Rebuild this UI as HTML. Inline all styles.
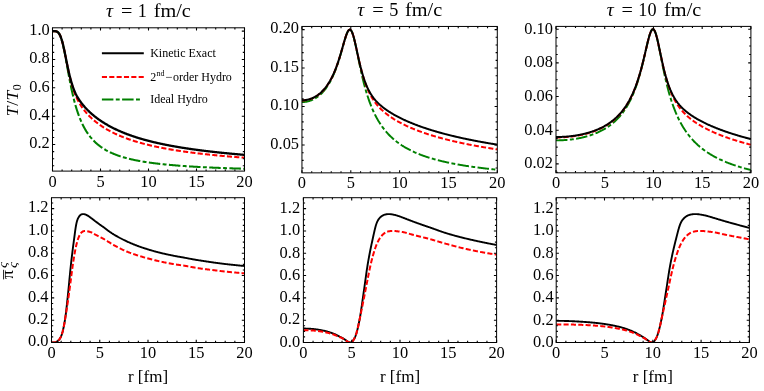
<!DOCTYPE html>
<html><head><meta charset="utf-8"><title>Gubser flow comparison</title>
<style>
html,body{margin:0;padding:0;background:#fff;}
body{width:764px;height:391px;overflow:hidden;font-family:"Liberation Serif",serif;}
svg{display:block;will-change:transform;}
svg text{font-family:"Liberation Serif",serif;fill:#000;}
</style></head><body>
<svg width="764" height="391" viewBox="0 0 764 391">
<rect width="764" height="391" fill="#fff"/>
<clipPath id="c0"><rect x="52.5" y="27.8" width="192" height="143.3"/></clipPath>
<g clip-path="url(#c0)" fill="none" stroke-linejoin="round">
<path d="M52.50 31.10 L52.98 31.10 L53.46 31.10 L53.94 31.11 L54.42 31.12 L54.90 31.15 L55.38 31.20 L55.86 31.28 L56.34 31.40 L56.82 31.58 L57.30 31.83 L57.78 32.17 L58.26 32.60 L58.74 33.15 L59.22 33.83 L59.70 34.65 L60.18 35.63 L60.66 36.78 L61.14 38.10 L61.62 39.60 L62.10 41.26 L62.58 43.10 L63.06 45.10 L63.54 47.25 L64.02 49.53 L64.50 51.92 L64.98 54.41 L65.46 56.98 L65.94 59.60 L66.42 62.26 L66.90 64.94 L67.38 67.61 L67.86 70.28 L68.34 72.92 L68.82 75.52 L69.30 78.08 L69.78 80.59 L70.26 83.03 L70.74 85.41 L71.22 87.73 L71.70 89.97 L72.18 92.15 L72.66 94.26 L73.14 96.29 L73.62 98.26 L74.10 100.16 L74.58 101.99 L75.06 103.75 L75.54 105.46 L76.02 107.10 L76.50 108.68 L76.98 110.21 L77.46 111.68 L77.94 113.09 L78.42 114.46 L78.90 115.78 L79.38 117.05 L79.86 118.28 L80.34 119.46 L80.82 120.60 L81.30 121.71 L81.78 122.77 L82.26 123.80 L82.74 124.80 L83.22 125.76 L83.70 126.69 L84.18 127.59 L84.66 128.46 L85.14 129.30 L85.62 130.12 L86.10 130.91 L86.58 131.68 L87.06 132.42 L87.54 133.14 L88.02 133.84 L88.50 134.52 L88.98 135.18 L89.46 135.82 L89.94 136.44 L90.42 137.05 L90.90 137.63 L91.38 138.20 L91.86 138.76 L92.34 139.30 L92.82 139.82 L93.30 140.34 L93.78 140.83 L94.26 141.32 L94.74 141.79 L95.22 142.25 L95.70 142.70 L96.18 143.14 L96.66 143.56 L97.14 143.98 L97.62 144.39 L98.10 144.78 L98.58 145.17 L99.06 145.55 L99.54 145.92 L100.02 146.28 L100.50 146.63 L100.98 146.97 L101.46 147.31 L101.94 147.64 L102.42 147.96 L102.90 148.27 L103.38 148.58 L103.86 148.88 L104.34 149.18 L104.82 149.47 L105.30 149.75 L105.78 150.02 L106.26 150.30 L106.74 150.56 L107.22 150.82 L107.70 151.08 L108.18 151.33 L108.66 151.57 L109.14 151.81 L109.62 152.04 L110.10 152.28 L110.58 152.50 L111.06 152.72 L111.54 152.94 L112.02 153.16 L112.50 153.37 L112.98 153.57 L113.46 153.77 L113.94 153.97 L114.42 154.17 L114.90 154.36 L115.38 154.55 L115.86 154.73 L116.34 154.91 L116.82 155.09 L117.30 155.27 L117.78 155.44 L118.26 155.61 L118.74 155.77 L119.22 155.94 L119.70 156.10 L120.18 156.26 L120.66 156.41 L121.14 156.57 L121.62 156.72 L122.10 156.87 L122.58 157.01 L123.06 157.16 L123.54 157.30 L124.02 157.44 L124.50 157.57 L124.98 157.71 L125.46 157.84 L125.94 157.97 L126.42 158.10 L126.90 158.23 L127.38 158.35 L127.86 158.48 L128.34 158.60 L128.82 158.72 L129.30 158.84 L129.78 158.95 L130.26 159.07 L130.74 159.18 L131.22 159.29 L131.70 159.40 L132.18 159.51 L132.66 159.62 L133.14 159.72 L133.62 159.83 L134.10 159.93 L134.58 160.03 L135.06 160.13 L135.54 160.23 L136.02 160.32 L136.50 160.42 L136.98 160.51 L137.46 160.61 L137.94 160.70 L138.42 160.79 L138.90 160.88 L139.38 160.97 L139.86 161.05 L140.34 161.14 L140.82 161.23 L141.30 161.31 L141.78 161.39 L142.26 161.47 L142.74 161.56 L143.22 161.64 L143.70 161.71 L144.18 161.79 L144.66 161.87 L145.14 161.95 L145.62 162.02 L146.10 162.09 L146.58 162.17 L147.06 162.24 L147.54 162.31 L148.02 162.38 L148.50 162.45 L148.98 162.52 L149.46 162.59 L149.94 162.66 L150.42 162.73 L150.90 162.79 L151.38 162.86 L151.86 162.92 L152.34 162.99 L152.82 163.05 L153.30 163.11 L153.78 163.17 L154.26 163.23 L154.74 163.29 L155.22 163.35 L155.70 163.41 L156.18 163.47 L156.66 163.53 L157.14 163.59 L157.62 163.64 L158.10 163.70 L158.58 163.76 L159.06 163.81 L159.54 163.86 L160.02 163.92 L160.50 163.97 L160.98 164.02 L161.46 164.08 L161.94 164.13 L162.42 164.18 L162.90 164.23 L163.38 164.28 L163.86 164.33 L164.34 164.38 L164.82 164.43 L165.30 164.47 L165.78 164.52 L166.26 164.57 L166.74 164.62 L167.22 164.66 L167.70 164.71 L168.18 164.75 L168.66 164.80 L169.14 164.84 L169.62 164.89 L170.10 164.93 L170.58 164.97 L171.06 165.02 L171.54 165.06 L172.02 165.10 L172.50 165.14 L172.98 165.18 L173.46 165.22 L173.94 165.26 L174.42 165.30 L174.90 165.34 L175.38 165.38 L175.86 165.42 L176.34 165.46 L176.82 165.50 L177.30 165.54 L177.78 165.57 L178.26 165.61 L178.74 165.65 L179.22 165.68 L179.70 165.72 L180.18 165.76 L180.66 165.79 L181.14 165.83 L181.62 165.86 L182.10 165.90 L182.58 165.93 L183.06 165.97 L183.54 166.00 L184.02 166.03 L184.50 166.07 L184.98 166.10 L185.46 166.13 L185.94 166.17 L186.42 166.20 L186.90 166.23 L187.38 166.26 L187.86 166.29 L188.34 166.32 L188.82 166.35 L189.30 166.38 L189.78 166.42 L190.26 166.45 L190.74 166.48 L191.22 166.50 L191.70 166.53 L192.18 166.56 L192.66 166.59 L193.14 166.62 L193.62 166.65 L194.10 166.68 L194.58 166.71 L195.06 166.73 L195.54 166.76 L196.02 166.79 L196.50 166.82 L196.98 166.84 L197.46 166.87 L197.94 166.90 L198.42 166.92 L198.90 166.95 L199.38 166.97 L199.86 167.00 L200.34 167.03 L200.82 167.05 L201.30 167.08 L201.78 167.10 L202.26 167.13 L202.74 167.15 L203.22 167.17 L203.70 167.20 L204.18 167.22 L204.66 167.25 L205.14 167.27 L205.62 167.29 L206.10 167.32 L206.58 167.34 L207.06 167.36 L207.54 167.39 L208.02 167.41 L208.50 167.43 L208.98 167.45 L209.46 167.48 L209.94 167.50 L210.42 167.52 L210.90 167.54 L211.38 167.56 L211.86 167.58 L212.34 167.61 L212.82 167.63 L213.30 167.65 L213.78 167.67 L214.26 167.69 L214.74 167.71 L215.22 167.73 L215.70 167.75 L216.18 167.77 L216.66 167.79 L217.14 167.81 L217.62 167.83 L218.10 167.85 L218.58 167.87 L219.06 167.89 L219.54 167.91 L220.02 167.93 L220.50 167.95 L220.98 167.96 L221.46 167.98 L221.94 168.00 L222.42 168.02 L222.90 168.04 L223.38 168.06 L223.86 168.07 L224.34 168.09 L224.82 168.11 L225.30 168.13 L225.78 168.15 L226.26 168.16 L226.74 168.18 L227.22 168.20 L227.70 168.22 L228.18 168.23 L228.66 168.25 L229.14 168.27 L229.62 168.28 L230.10 168.30 L230.58 168.32 L231.06 168.33 L231.54 168.35 L232.02 168.37 L232.50 168.38 L232.98 168.40 L233.46 168.41 L233.94 168.43 L234.42 168.44 L234.90 168.46 L235.38 168.48 L235.86 168.49 L236.34 168.51 L236.82 168.52 L237.30 168.54 L237.78 168.55 L238.26 168.57 L238.74 168.58 L239.22 168.60 L239.70 168.61 L240.18 168.63 L240.66 168.64 L241.14 168.66 L241.62 168.67 L242.10 168.68 L242.58 168.70 L243.06 168.71 L243.54 168.73 L244.02 168.74 L244.50 168.75" stroke="#008000" stroke-width="2.05" stroke-dasharray="11.5 2.4 3.9 2.4"/>
<path d="M52.50 31.10 L52.98 31.10 L53.46 31.10 L53.94 31.11 L54.42 31.12 L54.90 31.15 L55.38 31.20 L55.86 31.28 L56.34 31.40 L56.82 31.58 L57.30 31.83 L57.78 32.16 L58.26 32.60 L58.74 33.14 L59.22 33.82 L59.70 34.63 L60.18 35.60 L60.66 36.73 L61.14 38.03 L61.62 39.49 L62.10 41.12 L62.58 42.90 L63.06 44.83 L63.54 46.89 L64.02 49.06 L64.50 51.31 L64.98 53.64 L65.46 56.00 L65.94 58.40 L66.42 60.80 L66.90 63.18 L67.38 65.54 L67.86 67.86 L68.34 70.12 L68.82 72.33 L69.30 74.47 L69.78 76.54 L70.26 78.53 L70.74 80.44 L71.22 82.27 L71.70 84.01 L72.18 85.68 L72.66 87.27 L73.14 88.78 L73.62 90.21 L74.10 91.58 L74.58 92.88 L75.06 94.12 L75.54 95.30 L76.02 96.43 L76.50 97.51 L76.98 98.54 L77.46 99.53 L77.94 100.47 L78.42 101.38 L78.90 102.26 L79.38 103.10 L79.86 103.91 L80.34 104.70 L80.82 105.46 L81.30 106.19 L81.78 106.91 L82.26 107.60 L82.74 108.27 L83.22 108.93 L83.70 109.57 L84.18 110.19 L84.66 110.80 L85.14 111.39 L85.62 111.97 L86.10 112.54 L86.58 113.09 L87.06 113.63 L87.54 114.16 L88.02 114.68 L88.50 115.19 L88.98 115.69 L89.46 116.18 L89.94 116.66 L90.42 117.13 L90.90 117.59 L91.38 118.05 L91.86 118.49 L92.34 118.93 L92.82 119.36 L93.30 119.78 L93.78 120.20 L94.26 120.61 L94.74 121.01 L95.22 121.40 L95.70 121.79 L96.18 122.18 L96.66 122.56 L97.14 122.93 L97.62 123.29 L98.10 123.65 L98.58 124.01 L99.06 124.36 L99.54 124.70 L100.02 125.04 L100.50 125.37 L100.98 125.70 L101.46 126.03 L101.94 126.35 L102.42 126.66 L102.90 126.97 L103.38 127.28 L103.86 127.58 L104.34 127.88 L104.82 128.18 L105.30 128.47 L105.78 128.75 L106.26 129.04 L106.74 129.32 L107.22 129.59 L107.70 129.86 L108.18 130.13 L108.66 130.40 L109.14 130.66 L109.62 130.92 L110.10 131.18 L110.58 131.43 L111.06 131.68 L111.54 131.93 L112.02 132.17 L112.50 132.42 L112.98 132.65 L113.46 132.89 L113.94 133.12 L114.42 133.35 L114.90 133.58 L115.38 133.81 L115.86 134.03 L116.34 134.25 L116.82 134.47 L117.30 134.69 L117.78 134.90 L118.26 135.11 L118.74 135.32 L119.22 135.53 L119.70 135.73 L120.18 135.94 L120.66 136.14 L121.14 136.34 L121.62 136.53 L122.10 136.73 L122.58 136.92 L123.06 137.11 L123.54 137.30 L124.02 137.48 L124.50 137.67 L124.98 137.85 L125.46 138.03 L125.94 138.21 L126.42 138.39 L126.90 138.56 L127.38 138.74 L127.86 138.91 L128.34 139.08 L128.82 139.25 L129.30 139.41 L129.78 139.58 L130.26 139.74 L130.74 139.90 L131.22 140.06 L131.70 140.22 L132.18 140.38 L132.66 140.54 L133.14 140.69 L133.62 140.84 L134.10 141.00 L134.58 141.15 L135.06 141.30 L135.54 141.44 L136.02 141.59 L136.50 141.73 L136.98 141.88 L137.46 142.02 L137.94 142.16 L138.42 142.30 L138.90 142.44 L139.38 142.57 L139.86 142.71 L140.34 142.85 L140.82 142.98 L141.30 143.11 L141.78 143.24 L142.26 143.37 L142.74 143.50 L143.22 143.63 L143.70 143.76 L144.18 143.88 L144.66 144.01 L145.14 144.13 L145.62 144.25 L146.10 144.37 L146.58 144.49 L147.06 144.61 L147.54 144.73 L148.02 144.85 L148.50 144.97 L148.98 145.08 L149.46 145.20 L149.94 145.31 L150.42 145.42 L150.90 145.53 L151.38 145.65 L151.86 145.76 L152.34 145.86 L152.82 145.97 L153.30 146.08 L153.78 146.19 L154.26 146.29 L154.74 146.40 L155.22 146.50 L155.70 146.61 L156.18 146.71 L156.66 146.81 L157.14 146.91 L157.62 147.01 L158.10 147.11 L158.58 147.21 L159.06 147.31 L159.54 147.40 L160.02 147.50 L160.50 147.60 L160.98 147.69 L161.46 147.79 L161.94 147.88 L162.42 147.97 L162.90 148.06 L163.38 148.16 L163.86 148.25 L164.34 148.34 L164.82 148.43 L165.30 148.52 L165.78 148.60 L166.26 148.69 L166.74 148.78 L167.22 148.87 L167.70 148.95 L168.18 149.04 L168.66 149.12 L169.14 149.21 L169.62 149.29 L170.10 149.37 L170.58 149.45 L171.06 149.54 L171.54 149.62 L172.02 149.70 L172.50 149.78 L172.98 149.86 L173.46 149.94 L173.94 150.02 L174.42 150.09 L174.90 150.17 L175.38 150.25 L175.86 150.32 L176.34 150.40 L176.82 150.48 L177.30 150.55 L177.78 150.62 L178.26 150.70 L178.74 150.77 L179.22 150.84 L179.70 150.92 L180.18 150.99 L180.66 151.06 L181.14 151.13 L181.62 151.20 L182.10 151.27 L182.58 151.34 L183.06 151.41 L183.54 151.48 L184.02 151.55 L184.50 151.62 L184.98 151.68 L185.46 151.75 L185.94 151.82 L186.42 151.88 L186.90 151.95 L187.38 152.01 L187.86 152.08 L188.34 152.14 L188.82 152.21 L189.30 152.27 L189.78 152.34 L190.26 152.40 L190.74 152.46 L191.22 152.52 L191.70 152.59 L192.18 152.65 L192.66 152.71 L193.14 152.77 L193.62 152.83 L194.10 152.89 L194.58 152.95 L195.06 153.01 L195.54 153.07 L196.02 153.13 L196.50 153.19 L196.98 153.24 L197.46 153.30 L197.94 153.36 L198.42 153.42 L198.90 153.47 L199.38 153.53 L199.86 153.59 L200.34 153.64 L200.82 153.70 L201.30 153.75 L201.78 153.81 L202.26 153.86 L202.74 153.92 L203.22 153.97 L203.70 154.02 L204.18 154.08 L204.66 154.13 L205.14 154.18 L205.62 154.24 L206.10 154.29 L206.58 154.34 L207.06 154.39 L207.54 154.44 L208.02 154.49 L208.50 154.54 L208.98 154.60 L209.46 154.65 L209.94 154.70 L210.42 154.75 L210.90 154.79 L211.38 154.84 L211.86 154.89 L212.34 154.94 L212.82 154.99 L213.30 155.04 L213.78 155.09 L214.26 155.13 L214.74 155.18 L215.22 155.23 L215.70 155.27 L216.18 155.32 L216.66 155.37 L217.14 155.41 L217.62 155.46 L218.10 155.51 L218.58 155.55 L219.06 155.60 L219.54 155.64 L220.02 155.69 L220.50 155.73 L220.98 155.78 L221.46 155.82 L221.94 155.86 L222.42 155.91 L222.90 155.95 L223.38 155.99 L223.86 156.04 L224.34 156.08 L224.82 156.12 L225.30 156.16 L225.78 156.21 L226.26 156.25 L226.74 156.29 L227.22 156.33 L227.70 156.37 L228.18 156.41 L228.66 156.46 L229.14 156.50 L229.62 156.54 L230.10 156.58 L230.58 156.62 L231.06 156.66 L231.54 156.70 L232.02 156.74 L232.50 156.78 L232.98 156.81 L233.46 156.85 L233.94 156.89 L234.42 156.93 L234.90 156.97 L235.38 157.01 L235.86 157.05 L236.34 157.08 L236.82 157.12 L237.30 157.16 L237.78 157.20 L238.26 157.23 L238.74 157.27 L239.22 157.31 L239.70 157.34 L240.18 157.38 L240.66 157.42 L241.14 157.45 L241.62 157.49 L242.10 157.53 L242.58 157.56 L243.06 157.60 L243.54 157.63 L244.02 157.67 L244.50 157.70" stroke="#ff0000" stroke-width="2.05" stroke-dasharray="5.1 2.25"/>
<path d="M52.50 31.10 L52.98 31.10 L53.46 31.10 L53.94 31.11 L54.42 31.12 L54.90 31.15 L55.38 31.20 L55.86 31.28 L56.34 31.40 L56.82 31.58 L57.30 31.83 L57.78 32.16 L58.26 32.60 L58.74 33.14 L59.22 33.82 L59.70 34.63 L60.18 35.60 L60.66 36.73 L61.14 38.03 L61.62 39.49 L62.10 41.12 L62.58 42.90 L63.06 44.83 L63.54 46.89 L64.02 49.06 L64.50 51.31 L64.98 53.64 L65.46 56.00 L65.94 58.40 L66.42 60.79 L66.90 63.17 L67.38 65.51 L67.86 67.79 L68.34 70.01 L68.82 72.15 L69.30 74.22 L69.78 76.19 L70.26 78.08 L70.74 79.87 L71.22 81.57 L71.70 83.18 L72.18 84.71 L72.66 86.16 L73.14 87.53 L73.62 88.84 L74.10 90.07 L74.58 91.24 L75.06 92.35 L75.54 93.40 L76.02 94.39 L76.50 95.33 L76.98 96.22 L77.46 97.06 L77.94 97.87 L78.42 98.65 L78.90 99.40 L79.38 100.13 L79.86 100.83 L80.34 101.52 L80.82 102.18 L81.30 102.82 L81.78 103.45 L82.26 104.06 L82.74 104.66 L83.22 105.24 L83.70 105.81 L84.18 106.37 L84.66 106.92 L85.14 107.45 L85.62 107.98 L86.10 108.49 L86.58 109.00 L87.06 109.49 L87.54 109.98 L88.02 110.46 L88.50 110.92 L88.98 111.39 L89.46 111.84 L89.94 112.29 L90.42 112.73 L90.90 113.16 L91.38 113.59 L91.86 114.01 L92.34 114.42 L92.82 114.83 L93.30 115.23 L93.78 115.63 L94.26 116.02 L94.74 116.41 L95.22 116.79 L95.70 117.16 L96.18 117.53 L96.66 117.90 L97.14 118.25 L97.62 118.61 L98.10 118.96 L98.58 119.31 L99.06 119.65 L99.54 119.98 L100.02 120.32 L100.50 120.64 L100.98 120.97 L101.46 121.29 L101.94 121.60 L102.42 121.92 L102.90 122.23 L103.38 122.53 L103.86 122.83 L104.34 123.13 L104.82 123.42 L105.30 123.71 L105.78 124.00 L106.26 124.28 L106.74 124.56 L107.22 124.84 L107.70 125.12 L108.18 125.39 L108.66 125.66 L109.14 125.92 L109.62 126.19 L110.10 126.45 L110.58 126.70 L111.06 126.96 L111.54 127.21 L112.02 127.46 L112.50 127.71 L112.98 127.95 L113.46 128.19 L113.94 128.43 L114.42 128.67 L114.90 128.90 L115.38 129.13 L115.86 129.36 L116.34 129.59 L116.82 129.81 L117.30 130.03 L117.78 130.25 L118.26 130.47 L118.74 130.69 L119.22 130.90 L119.70 131.11 L120.18 131.32 L120.66 131.53 L121.14 131.73 L121.62 131.94 L122.10 132.14 L122.58 132.34 L123.06 132.54 L123.54 132.73 L124.02 132.92 L124.50 133.12 L124.98 133.31 L125.46 133.49 L125.94 133.68 L126.42 133.87 L126.90 134.05 L127.38 134.23 L127.86 134.41 L128.34 134.59 L128.82 134.76 L129.30 134.94 L129.78 135.11 L130.26 135.28 L130.74 135.45 L131.22 135.62 L131.70 135.79 L132.18 135.96 L132.66 136.12 L133.14 136.28 L133.62 136.44 L134.10 136.60 L134.58 136.76 L135.06 136.92 L135.54 137.08 L136.02 137.23 L136.50 137.38 L136.98 137.54 L137.46 137.69 L137.94 137.84 L138.42 137.98 L138.90 138.13 L139.38 138.28 L139.86 138.42 L140.34 138.56 L140.82 138.71 L141.30 138.85 L141.78 138.99 L142.26 139.12 L142.74 139.26 L143.22 139.40 L143.70 139.53 L144.18 139.67 L144.66 139.80 L145.14 139.93 L145.62 140.06 L146.10 140.19 L146.58 140.32 L147.06 140.45 L147.54 140.58 L148.02 140.70 L148.50 140.83 L148.98 140.95 L149.46 141.08 L149.94 141.20 L150.42 141.32 L150.90 141.44 L151.38 141.56 L151.86 141.68 L152.34 141.80 L152.82 141.91 L153.30 142.03 L153.78 142.14 L154.26 142.26 L154.74 142.37 L155.22 142.48 L155.70 142.59 L156.18 142.71 L156.66 142.82 L157.14 142.92 L157.62 143.03 L158.10 143.14 L158.58 143.25 L159.06 143.35 L159.54 143.46 L160.02 143.56 L160.50 143.67 L160.98 143.77 L161.46 143.87 L161.94 143.98 L162.42 144.08 L162.90 144.18 L163.38 144.28 L163.86 144.38 L164.34 144.47 L164.82 144.57 L165.30 144.67 L165.78 144.76 L166.26 144.86 L166.74 144.95 L167.22 145.05 L167.70 145.14 L168.18 145.24 L168.66 145.33 L169.14 145.42 L169.62 145.51 L170.10 145.60 L170.58 145.69 L171.06 145.78 L171.54 145.87 L172.02 145.96 L172.50 146.05 L172.98 146.13 L173.46 146.22 L173.94 146.30 L174.42 146.39 L174.90 146.47 L175.38 146.56 L175.86 146.64 L176.34 146.73 L176.82 146.81 L177.30 146.89 L177.78 146.97 L178.26 147.05 L178.74 147.13 L179.22 147.21 L179.70 147.29 L180.18 147.37 L180.66 147.45 L181.14 147.53 L181.62 147.61 L182.10 147.68 L182.58 147.76 L183.06 147.84 L183.54 147.91 L184.02 147.99 L184.50 148.06 L184.98 148.14 L185.46 148.21 L185.94 148.28 L186.42 148.36 L186.90 148.43 L187.38 148.50 L187.86 148.57 L188.34 148.65 L188.82 148.72 L189.30 148.79 L189.78 148.86 L190.26 148.93 L190.74 149.00 L191.22 149.07 L191.70 149.13 L192.18 149.20 L192.66 149.27 L193.14 149.34 L193.62 149.40 L194.10 149.47 L194.58 149.54 L195.06 149.60 L195.54 149.67 L196.02 149.73 L196.50 149.80 L196.98 149.86 L197.46 149.93 L197.94 149.99 L198.42 150.05 L198.90 150.12 L199.38 150.18 L199.86 150.24 L200.34 150.31 L200.82 150.37 L201.30 150.43 L201.78 150.49 L202.26 150.55 L202.74 150.61 L203.22 150.67 L203.70 150.73 L204.18 150.79 L204.66 150.85 L205.14 150.91 L205.62 150.97 L206.10 151.02 L206.58 151.08 L207.06 151.14 L207.54 151.20 L208.02 151.25 L208.50 151.31 L208.98 151.37 L209.46 151.42 L209.94 151.48 L210.42 151.53 L210.90 151.59 L211.38 151.64 L211.86 151.70 L212.34 151.75 L212.82 151.81 L213.30 151.86 L213.78 151.91 L214.26 151.97 L214.74 152.02 L215.22 152.07 L215.70 152.13 L216.18 152.18 L216.66 152.23 L217.14 152.28 L217.62 152.33 L218.10 152.38 L218.58 152.44 L219.06 152.49 L219.54 152.54 L220.02 152.59 L220.50 152.64 L220.98 152.69 L221.46 152.74 L221.94 152.79 L222.42 152.83 L222.90 152.88 L223.38 152.93 L223.86 152.98 L224.34 153.03 L224.82 153.08 L225.30 153.12 L225.78 153.17 L226.26 153.22 L226.74 153.26 L227.22 153.31 L227.70 153.36 L228.18 153.40 L228.66 153.45 L229.14 153.50 L229.62 153.54 L230.10 153.59 L230.58 153.63 L231.06 153.68 L231.54 153.72 L232.02 153.77 L232.50 153.81 L232.98 153.85 L233.46 153.90 L233.94 153.94 L234.42 153.99 L234.90 154.03 L235.38 154.07 L235.86 154.12 L236.34 154.16 L236.82 154.20 L237.30 154.24 L237.78 154.28 L238.26 154.33 L238.74 154.37 L239.22 154.41 L239.70 154.45 L240.18 154.49 L240.66 154.53 L241.14 154.57 L241.62 154.62 L242.10 154.66 L242.58 154.70 L243.06 154.74 L243.54 154.78 L244.02 154.82 L244.50 154.86" stroke="#000" stroke-width="2.3"/>
</g>
<path d="M52.5 171.1 v-2.7 M52.5 27.8 v2.7 M62.1 171.1 v-1.7 M62.1 27.8 v1.7 M71.7 171.1 v-1.7 M71.7 27.8 v1.7 M81.3 171.1 v-1.7 M81.3 27.8 v1.7 M90.9 171.1 v-1.7 M90.9 27.8 v1.7 M100.5 171.1 v-2.7 M100.5 27.8 v2.7 M110.1 171.1 v-1.7 M110.1 27.8 v1.7 M119.7 171.1 v-1.7 M119.7 27.8 v1.7 M129.3 171.1 v-1.7 M129.3 27.8 v1.7 M138.9 171.1 v-1.7 M138.9 27.8 v1.7 M148.5 171.1 v-2.7 M148.5 27.8 v2.7 M158.1 171.1 v-1.7 M158.1 27.8 v1.7 M167.7 171.1 v-1.7 M167.7 27.8 v1.7 M177.3 171.1 v-1.7 M177.3 27.8 v1.7 M186.9 171.1 v-1.7 M186.9 27.8 v1.7 M196.5 171.1 v-2.7 M196.5 27.8 v2.7 M206.1 171.1 v-1.7 M206.1 27.8 v1.7 M215.7 171.1 v-1.7 M215.7 27.8 v1.7 M225.3 171.1 v-1.7 M225.3 27.8 v1.7 M234.9 171.1 v-1.7 M234.9 27.8 v1.7 M244.5 171.1 v-2.7 M244.5 27.8 v2.7 M52.5 165.81 h1.7 M244.5 165.81 h-1.7 M52.5 158.72 h1.7 M244.5 158.72 h-1.7 M52.5 151.63 h1.7 M244.5 151.63 h-1.7 M52.5 144.54 h2.7 M244.5 144.54 h-2.7 M52.5 137.45 h1.7 M244.5 137.45 h-1.7 M52.5 130.36 h1.7 M244.5 130.36 h-1.7 M52.5 123.27 h1.7 M244.5 123.27 h-1.7 M52.5 116.18 h2.7 M244.5 116.18 h-2.7 M52.5 109.09 h1.7 M244.5 109.09 h-1.7 M52.5 102 h1.7 M244.5 102 h-1.7 M52.5 94.91 h1.7 M244.5 94.91 h-1.7 M52.5 87.82 h2.7 M244.5 87.82 h-2.7 M52.5 80.73 h1.7 M244.5 80.73 h-1.7 M52.5 73.64 h1.7 M244.5 73.64 h-1.7 M52.5 66.55 h1.7 M244.5 66.55 h-1.7 M52.5 59.46 h2.7 M244.5 59.46 h-2.7 M52.5 52.37 h1.7 M244.5 52.37 h-1.7 M52.5 45.28 h1.7 M244.5 45.28 h-1.7 M52.5 38.19 h1.7 M244.5 38.19 h-1.7 M52.5 31.1 h2.7 M244.5 31.1 h-2.7" stroke="#000" stroke-width="1.1" fill="none"/>
<rect x="52.5" y="27.8" width="192" height="143.3" fill="none" stroke="#000" stroke-width="1.0"/>
<text x="52.5" y="187.1" text-anchor="middle" font-size="16.4">0</text>
<text x="100.5" y="187.1" text-anchor="middle" font-size="16.4">5</text>
<text x="148.5" y="187.1" text-anchor="middle" font-size="16.4">10</text>
<text x="196.5" y="187.1" text-anchor="middle" font-size="16.4">15</text>
<text x="244.5" y="187.1" text-anchor="middle" font-size="16.4">20</text>
<text x="49.7" y="148.44" text-anchor="end" font-size="16.4">0.2</text>
<text x="49.7" y="120.08" text-anchor="end" font-size="16.4">0.4</text>
<text x="49.7" y="91.72" text-anchor="end" font-size="16.4">0.6</text>
<text x="49.7" y="63.36" text-anchor="end" font-size="16.4">0.8</text>
<text x="49.7" y="35" text-anchor="end" font-size="16.4">1.0</text>
<g font-size="18.2"><text x="105.90" y="17.30" font-style="italic" textLength="7.00" lengthAdjust="spacingAndGlyphs">τ</text><text x="120.90" y="17.30" textLength="11.40" lengthAdjust="spacingAndGlyphs">=</text><text x="137.70" y="17.30">1</text><text x="153.70" y="17.30" textLength="37.20" lengthAdjust="spacingAndGlyphs">fm/c</text></g>
<clipPath id="c1"><rect x="301.95" y="26.45" width="195.35" height="146.4"/></clipPath>
<g clip-path="url(#c1)" fill="none" stroke-linejoin="round">
<path d="M301.95 102.08 L302.44 102.07 L302.93 102.06 L303.42 102.03 L303.90 102.00 L304.39 101.96 L304.88 101.90 L305.37 101.84 L305.86 101.77 L306.35 101.69 L306.83 101.59 L307.32 101.49 L307.81 101.38 L308.30 101.25 L308.79 101.12 L309.28 100.98 L309.76 100.82 L310.25 100.66 L310.74 100.48 L311.23 100.30 L311.72 100.10 L312.21 99.89 L312.69 99.67 L313.18 99.44 L313.67 99.19 L314.16 98.94 L314.65 98.67 L315.14 98.39 L315.62 98.10 L316.11 97.79 L316.60 97.47 L317.09 97.14 L317.58 96.79 L318.07 96.43 L318.55 96.05 L319.04 95.66 L319.53 95.26 L320.02 94.84 L320.51 94.40 L321.00 93.94 L321.49 93.47 L321.97 92.98 L322.46 92.48 L322.95 91.95 L323.44 91.41 L323.93 90.84 L324.42 90.26 L324.90 89.66 L325.39 89.03 L325.88 88.38 L326.37 87.71 L326.86 87.02 L327.35 86.30 L327.83 85.55 L328.32 84.79 L328.81 83.99 L329.30 83.17 L329.79 82.31 L330.28 81.43 L330.76 80.52 L331.25 79.58 L331.74 78.60 L332.23 77.59 L332.72 76.55 L333.21 75.47 L333.69 74.36 L334.18 73.21 L334.67 72.02 L335.16 70.79 L335.65 69.53 L336.14 68.22 L336.62 66.87 L337.11 65.49 L337.60 64.06 L338.09 62.59 L338.58 61.08 L339.07 59.53 L339.55 57.94 L340.04 56.32 L340.53 54.66 L341.02 52.98 L341.51 51.27 L342.00 49.54 L342.49 47.80 L342.97 46.06 L343.46 44.32 L343.95 42.60 L344.44 40.92 L344.93 39.27 L345.42 37.69 L345.90 36.19 L346.39 34.79 L346.88 33.52 L347.37 32.38 L347.86 31.42 L348.35 30.64 L348.83 30.06 L349.32 29.71 L349.81 29.59 L350.30 29.72 L350.79 30.10 L351.28 30.73 L351.76 31.61 L352.25 32.72 L352.74 34.06 L353.23 35.60 L353.72 37.32 L354.21 39.21 L354.69 41.23 L355.18 43.37 L355.67 45.61 L356.16 47.91 L356.65 50.26 L357.14 52.65 L357.62 55.05 L358.11 57.46 L358.60 59.86 L359.09 62.23 L359.58 64.58 L360.07 66.89 L360.56 69.16 L361.04 71.39 L361.53 73.56 L362.02 75.69 L362.51 77.76 L363.00 79.78 L363.49 81.74 L363.97 83.65 L364.46 85.51 L364.95 87.31 L365.44 89.06 L365.93 90.75 L366.42 92.40 L366.90 94.00 L367.39 95.55 L367.88 97.06 L368.37 98.52 L368.86 99.94 L369.35 101.32 L369.83 102.66 L370.32 103.95 L370.81 105.21 L371.30 106.44 L371.79 107.63 L372.28 108.79 L372.76 109.91 L373.25 111.00 L373.74 112.07 L374.23 113.10 L374.72 114.11 L375.21 115.09 L375.69 116.04 L376.18 116.97 L376.67 117.88 L377.16 118.76 L377.65 119.62 L378.14 120.46 L378.62 121.28 L379.11 122.07 L379.60 122.85 L380.09 123.61 L380.58 124.35 L381.07 125.08 L381.56 125.79 L382.04 126.48 L382.53 127.15 L383.02 127.82 L383.51 128.46 L384.00 129.09 L384.49 129.71 L384.97 130.32 L385.46 130.91 L385.95 131.49 L386.44 132.05 L386.93 132.61 L387.42 133.15 L387.90 133.69 L388.39 134.21 L388.88 134.72 L389.37 135.22 L389.86 135.72 L390.35 136.20 L390.83 136.67 L391.32 137.14 L391.81 137.59 L392.30 138.04 L392.79 138.48 L393.28 138.91 L393.76 139.33 L394.25 139.75 L394.74 140.16 L395.23 140.56 L395.72 140.95 L396.21 141.34 L396.69 141.72 L397.18 142.10 L397.67 142.46 L398.16 142.82 L398.65 143.18 L399.14 143.53 L399.62 143.87 L400.11 144.21 L400.60 144.55 L401.09 144.87 L401.58 145.20 L402.07 145.51 L402.56 145.83 L403.04 146.13 L403.53 146.44 L404.02 146.73 L404.51 147.03 L405.00 147.32 L405.49 147.60 L405.97 147.88 L406.46 148.16 L406.95 148.43 L407.44 148.70 L407.93 148.97 L408.42 149.23 L408.90 149.49 L409.39 149.74 L409.88 149.99 L410.37 150.24 L410.86 150.48 L411.35 150.72 L411.83 150.96 L412.32 151.19 L412.81 151.42 L413.30 151.65 L413.79 151.88 L414.28 152.10 L414.76 152.32 L415.25 152.53 L415.74 152.74 L416.23 152.96 L416.72 153.16 L417.21 153.37 L417.69 153.57 L418.18 153.77 L418.67 153.97 L419.16 154.16 L419.65 154.36 L420.14 154.55 L420.63 154.73 L421.11 154.92 L421.60 155.10 L422.09 155.29 L422.58 155.46 L423.07 155.64 L423.56 155.82 L424.04 155.99 L424.53 156.16 L425.02 156.33 L425.51 156.50 L426.00 156.66 L426.49 156.83 L426.97 156.99 L427.46 157.15 L427.95 157.31 L428.44 157.46 L428.93 157.62 L429.42 157.77 L429.90 157.92 L430.39 158.07 L430.88 158.22 L431.37 158.36 L431.86 158.51 L432.35 158.65 L432.83 158.79 L433.32 158.93 L433.81 159.07 L434.30 159.21 L434.79 159.35 L435.28 159.48 L435.76 159.61 L436.25 159.75 L436.74 159.88 L437.23 160.01 L437.72 160.13 L438.21 160.26 L438.70 160.39 L439.18 160.51 L439.67 160.63 L440.16 160.75 L440.65 160.87 L441.14 160.99 L441.63 161.11 L442.11 161.23 L442.60 161.34 L443.09 161.46 L443.58 161.57 L444.07 161.69 L444.56 161.80 L445.04 161.91 L445.53 162.02 L446.02 162.13 L446.51 162.23 L447.00 162.34 L447.49 162.45 L447.97 162.55 L448.46 162.65 L448.95 162.76 L449.44 162.86 L449.93 162.96 L450.42 163.06 L450.90 163.16 L451.39 163.26 L451.88 163.35 L452.37 163.45 L452.86 163.55 L453.35 163.64 L453.83 163.74 L454.32 163.83 L454.81 163.92 L455.30 164.01 L455.79 164.10 L456.28 164.19 L456.76 164.28 L457.25 164.37 L457.74 164.46 L458.23 164.55 L458.72 164.63 L459.21 164.72 L459.70 164.80 L460.18 164.89 L460.67 164.97 L461.16 165.05 L461.65 165.14 L462.14 165.22 L462.63 165.30 L463.11 165.38 L463.60 165.46 L464.09 165.54 L464.58 165.62 L465.07 165.69 L465.56 165.77 L466.04 165.85 L466.53 165.92 L467.02 166.00 L467.51 166.07 L468.00 166.15 L468.49 166.22 L468.97 166.29 L469.46 166.37 L469.95 166.44 L470.44 166.51 L470.93 166.58 L471.42 166.65 L471.90 166.72 L472.39 166.79 L472.88 166.86 L473.37 166.93 L473.86 167.00 L474.35 167.06 L474.83 167.13 L475.32 167.20 L475.81 167.26 L476.30 167.33 L476.79 167.39 L477.28 167.46 L477.76 167.52 L478.25 167.58 L478.74 167.65 L479.23 167.71 L479.72 167.77 L480.21 167.83 L480.70 167.89 L481.18 167.95 L481.67 168.01 L482.16 168.07 L482.65 168.13 L483.14 168.19 L483.63 168.25 L484.11 168.31 L484.60 168.37 L485.09 168.43 L485.58 168.48 L486.07 168.54 L486.56 168.60 L487.04 168.65 L487.53 168.71 L488.02 168.76 L488.51 168.82 L489.00 168.87 L489.49 168.93 L489.97 168.98 L490.46 169.03 L490.95 169.09 L491.44 169.14 L491.93 169.19 L492.42 169.24 L492.90 169.29 L493.39 169.35 L493.88 169.40 L494.37 169.45 L494.86 169.50 L495.35 169.55 L495.83 169.60 L496.32 169.65 L496.81 169.70 L497.30 169.74" stroke="#008000" stroke-width="1.95" stroke-dasharray="11.5 2.4 3.9 2.4"/>
<path d="M301.95 100.47 L302.44 100.46 L302.93 100.45 L303.42 100.42 L303.90 100.39 L304.39 100.35 L304.88 100.30 L305.37 100.24 L305.86 100.17 L306.35 100.09 L306.83 100.00 L307.32 99.90 L307.81 99.79 L308.30 99.67 L308.79 99.55 L309.28 99.41 L309.76 99.26 L310.25 99.10 L310.74 98.93 L311.23 98.75 L311.72 98.56 L312.21 98.36 L312.69 98.15 L313.18 97.92 L313.67 97.69 L314.16 97.44 L314.65 97.18 L315.14 96.91 L315.62 96.63 L316.11 96.33 L316.60 96.03 L317.09 95.70 L317.58 95.37 L318.07 95.02 L318.55 94.66 L319.04 94.28 L319.53 93.89 L320.02 93.48 L320.51 93.06 L321.00 92.62 L321.49 92.17 L321.97 91.70 L322.46 91.21 L322.95 90.70 L323.44 90.17 L323.93 89.63 L324.42 89.06 L324.90 88.48 L325.39 87.87 L325.88 87.25 L326.37 86.60 L326.86 85.93 L327.35 85.23 L327.83 84.51 L328.32 83.77 L328.81 83.00 L329.30 82.20 L329.79 81.37 L330.28 80.52 L330.76 79.63 L331.25 78.72 L331.74 77.77 L332.23 76.79 L332.72 75.78 L333.21 74.73 L333.69 73.65 L334.18 72.53 L334.67 71.37 L335.16 70.18 L335.65 68.94 L336.14 67.67 L336.62 66.35 L337.11 65.00 L337.60 63.60 L338.09 62.16 L338.58 60.69 L339.07 59.17 L339.55 57.62 L340.04 56.03 L340.53 54.40 L341.02 52.75 L341.51 51.07 L342.00 49.37 L342.49 47.66 L342.97 45.94 L343.46 44.22 L343.95 42.52 L344.44 40.85 L344.93 39.23 L345.42 37.66 L345.90 36.17 L346.39 34.78 L346.88 33.51 L347.37 32.38 L347.86 31.41 L348.35 30.63 L348.83 30.06 L349.32 29.71 L349.81 29.59 L350.30 29.72 L350.79 30.10 L351.28 30.73 L351.76 31.60 L352.25 32.71 L352.74 34.03 L353.23 35.55 L353.72 37.24 L354.21 39.09 L354.69 41.06 L355.18 43.13 L355.67 45.28 L356.16 47.48 L356.65 49.71 L357.14 51.96 L357.62 54.20 L358.11 56.42 L358.60 58.61 L359.09 60.76 L359.58 62.87 L360.07 64.92 L360.56 66.92 L361.04 68.85 L361.53 70.73 L362.02 72.55 L362.51 74.30 L363.00 75.99 L363.49 77.62 L363.97 79.19 L364.46 80.70 L364.95 82.15 L365.44 83.55 L365.93 84.89 L366.42 86.18 L366.90 87.41 L367.39 88.60 L367.88 89.74 L368.37 90.84 L368.86 91.89 L369.35 92.90 L369.83 93.87 L370.32 94.81 L370.81 95.71 L371.30 96.58 L371.79 97.42 L372.28 98.22 L372.76 99.01 L373.25 99.76 L373.74 100.49 L374.23 101.19 L374.72 101.88 L375.21 102.54 L375.69 103.18 L376.18 103.80 L376.67 104.41 L377.16 105.00 L377.65 105.57 L378.14 106.13 L378.62 106.67 L379.11 107.20 L379.60 107.71 L380.09 108.22 L380.58 108.71 L381.07 109.19 L381.56 109.66 L382.04 110.12 L382.53 110.57 L383.02 111.01 L383.51 111.44 L384.00 111.87 L384.49 112.28 L384.97 112.69 L385.46 113.09 L385.95 113.49 L386.44 113.87 L386.93 114.25 L387.42 114.63 L387.90 114.99 L388.39 115.35 L388.88 115.71 L389.37 116.06 L389.86 116.41 L390.35 116.75 L390.83 117.08 L391.32 117.41 L391.81 117.74 L392.30 118.06 L392.79 118.38 L393.28 118.69 L393.76 119.00 L394.25 119.30 L394.74 119.60 L395.23 119.90 L395.72 120.19 L396.21 120.48 L396.69 120.77 L397.18 121.05 L397.67 121.33 L398.16 121.61 L398.65 121.88 L399.14 122.15 L399.62 122.41 L400.11 122.68 L400.60 122.94 L401.09 123.19 L401.58 123.45 L402.07 123.70 L402.56 123.95 L403.04 124.20 L403.53 124.44 L404.02 124.68 L404.51 124.92 L405.00 125.16 L405.49 125.39 L405.97 125.62 L406.46 125.85 L406.95 126.08 L407.44 126.30 L407.93 126.53 L408.42 126.75 L408.90 126.97 L409.39 127.18 L409.88 127.40 L410.37 127.61 L410.86 127.82 L411.35 128.03 L411.83 128.24 L412.32 128.45 L412.81 128.65 L413.30 128.85 L413.79 129.05 L414.28 129.25 L414.76 129.45 L415.25 129.64 L415.74 129.83 L416.23 130.03 L416.72 130.22 L417.21 130.41 L417.69 130.59 L418.18 130.78 L418.67 130.96 L419.16 131.14 L419.65 131.32 L420.14 131.50 L420.63 131.68 L421.11 131.86 L421.60 132.03 L422.09 132.21 L422.58 132.38 L423.07 132.55 L423.56 132.72 L424.04 132.89 L424.53 133.06 L425.02 133.22 L425.51 133.39 L426.00 133.55 L426.49 133.71 L426.97 133.87 L427.46 134.03 L427.95 134.19 L428.44 134.35 L428.93 134.51 L429.42 134.66 L429.90 134.82 L430.39 134.97 L430.88 135.12 L431.37 135.27 L431.86 135.42 L432.35 135.57 L432.83 135.72 L433.32 135.87 L433.81 136.01 L434.30 136.16 L434.79 136.30 L435.28 136.44 L435.76 136.59 L436.25 136.73 L436.74 136.87 L437.23 137.01 L437.72 137.15 L438.21 137.28 L438.70 137.42 L439.18 137.56 L439.67 137.69 L440.16 137.83 L440.65 137.96 L441.14 138.09 L441.63 138.22 L442.11 138.36 L442.60 138.49 L443.09 138.62 L443.58 138.74 L444.07 138.87 L444.56 139.00 L445.04 139.12 L445.53 139.25 L446.02 139.38 L446.51 139.50 L447.00 139.62 L447.49 139.75 L447.97 139.87 L448.46 139.99 L448.95 140.11 L449.44 140.23 L449.93 140.35 L450.42 140.47 L450.90 140.58 L451.39 140.70 L451.88 140.82 L452.37 140.93 L452.86 141.05 L453.35 141.16 L453.83 141.28 L454.32 141.39 L454.81 141.50 L455.30 141.61 L455.79 141.73 L456.28 141.84 L456.76 141.95 L457.25 142.06 L457.74 142.17 L458.23 142.27 L458.72 142.38 L459.21 142.49 L459.70 142.60 L460.18 142.70 L460.67 142.81 L461.16 142.91 L461.65 143.02 L462.14 143.12 L462.63 143.22 L463.11 143.33 L463.60 143.43 L464.09 143.53 L464.58 143.63 L465.07 143.73 L465.56 143.83 L466.04 143.93 L466.53 144.03 L467.02 144.13 L467.51 144.23 L468.00 144.32 L468.49 144.42 L468.97 144.52 L469.46 144.61 L469.95 144.71 L470.44 144.81 L470.93 144.90 L471.42 144.99 L471.90 145.09 L472.39 145.18 L472.88 145.27 L473.37 145.37 L473.86 145.46 L474.35 145.55 L474.83 145.64 L475.32 145.73 L475.81 145.82 L476.30 145.91 L476.79 146.00 L477.28 146.09 L477.76 146.18 L478.25 146.26 L478.74 146.35 L479.23 146.44 L479.72 146.52 L480.21 146.61 L480.70 146.70 L481.18 146.78 L481.67 146.87 L482.16 146.95 L482.65 147.04 L483.14 147.12 L483.63 147.20 L484.11 147.29 L484.60 147.37 L485.09 147.45 L485.58 147.53 L486.07 147.61 L486.56 147.69 L487.04 147.78 L487.53 147.86 L488.02 147.94 L488.51 148.01 L489.00 148.09 L489.49 148.17 L489.97 148.25 L490.46 148.33 L490.95 148.41 L491.44 148.48 L491.93 148.56 L492.42 148.64 L492.90 148.71 L493.39 148.79 L493.88 148.87 L494.37 148.94 L494.86 149.02 L495.35 149.09 L495.83 149.17 L496.32 149.24 L496.81 149.31 L497.30 149.39" stroke="#ff0000" stroke-width="2.0" stroke-dasharray="5.1 2.25"/>
<path d="M301.95 100.29 L302.44 100.28 L302.93 100.27 L303.42 100.25 L303.90 100.21 L304.39 100.17 L304.88 100.12 L305.37 100.06 L305.86 99.99 L306.35 99.91 L306.83 99.82 L307.32 99.72 L307.81 99.62 L308.30 99.50 L308.79 99.37 L309.28 99.23 L309.76 99.09 L310.25 98.93 L310.74 98.76 L311.23 98.58 L311.72 98.39 L312.21 98.19 L312.69 97.98 L313.18 97.76 L313.67 97.52 L314.16 97.28 L314.65 97.02 L315.14 96.75 L315.62 96.47 L316.11 96.18 L316.60 95.87 L317.09 95.55 L317.58 95.22 L318.07 94.87 L318.55 94.51 L319.04 94.13 L319.53 93.74 L320.02 93.34 L320.51 92.92 L321.00 92.48 L321.49 92.03 L321.97 91.56 L322.46 91.07 L322.95 90.57 L323.44 90.04 L323.93 89.50 L324.42 88.94 L324.90 88.36 L325.39 87.76 L325.88 87.13 L326.37 86.48 L326.86 85.82 L327.35 85.12 L327.83 84.41 L328.32 83.66 L328.81 82.90 L329.30 82.10 L329.79 81.28 L330.28 80.43 L330.76 79.55 L331.25 78.63 L331.74 77.69 L332.23 76.71 L332.72 75.70 L333.21 74.66 L333.69 73.58 L334.18 72.46 L334.67 71.31 L335.16 70.12 L335.65 68.89 L336.14 67.62 L336.62 66.30 L337.11 64.95 L337.60 63.56 L338.09 62.13 L338.58 60.65 L339.07 59.14 L339.55 57.59 L340.04 56.00 L340.53 54.38 L341.02 52.73 L341.51 51.05 L342.00 49.35 L342.49 47.64 L342.97 45.93 L343.46 44.22 L343.95 42.52 L344.44 40.85 L344.93 39.22 L345.42 37.66 L345.90 36.17 L346.39 34.78 L346.88 33.51 L347.37 32.38 L347.86 31.41 L348.35 30.63 L348.83 30.06 L349.32 29.71 L349.81 29.59 L350.30 29.72 L350.79 30.10 L351.28 30.73 L351.76 31.60 L352.25 32.71 L352.74 34.03 L353.23 35.55 L353.72 37.24 L354.21 39.09 L354.69 41.06 L355.18 43.13 L355.67 45.28 L356.16 47.48 L356.65 49.71 L357.14 51.96 L357.62 54.20 L358.11 56.42 L358.60 58.61 L359.09 60.76 L359.58 62.86 L360.07 64.91 L360.56 66.89 L361.04 68.80 L361.53 70.64 L362.02 72.41 L362.51 74.11 L363.00 75.74 L363.49 77.30 L363.97 78.80 L364.46 80.23 L364.95 81.60 L365.44 82.90 L365.93 84.15 L366.42 85.34 L366.90 86.48 L367.39 87.56 L367.88 88.61 L368.37 89.61 L368.86 90.56 L369.35 91.48 L369.83 92.36 L370.32 93.21 L370.81 94.02 L371.30 94.80 L371.79 95.55 L372.28 96.27 L372.76 96.96 L373.25 97.63 L373.74 98.27 L374.23 98.89 L374.72 99.48 L375.21 100.05 L375.69 100.60 L376.18 101.13 L376.67 101.65 L377.16 102.16 L377.65 102.65 L378.14 103.12 L378.62 103.59 L379.11 104.05 L379.60 104.49 L380.09 104.93 L380.58 105.35 L381.07 105.77 L381.56 106.18 L382.04 106.58 L382.53 106.98 L383.02 107.36 L383.51 107.74 L384.00 108.12 L384.49 108.48 L384.97 108.84 L385.46 109.20 L385.95 109.55 L386.44 109.89 L386.93 110.23 L387.42 110.56 L387.90 110.89 L388.39 111.22 L388.88 111.54 L389.37 111.85 L389.86 112.16 L390.35 112.47 L390.83 112.77 L391.32 113.07 L391.81 113.37 L392.30 113.66 L392.79 113.95 L393.28 114.24 L393.76 114.52 L394.25 114.80 L394.74 115.07 L395.23 115.34 L395.72 115.61 L396.21 115.88 L396.69 116.14 L397.18 116.40 L397.67 116.66 L398.16 116.92 L398.65 117.17 L399.14 117.42 L399.62 117.67 L400.11 117.92 L400.60 118.16 L401.09 118.40 L401.58 118.64 L402.07 118.88 L402.56 119.11 L403.04 119.34 L403.53 119.57 L404.02 119.80 L404.51 120.03 L405.00 120.25 L405.49 120.48 L405.97 120.70 L406.46 120.91 L406.95 121.13 L407.44 121.35 L407.93 121.56 L408.42 121.77 L408.90 121.98 L409.39 122.19 L409.88 122.40 L410.37 122.60 L410.86 122.80 L411.35 123.00 L411.83 123.20 L412.32 123.40 L412.81 123.60 L413.30 123.79 L413.79 123.99 L414.28 124.18 L414.76 124.37 L415.25 124.56 L415.74 124.75 L416.23 124.93 L416.72 125.12 L417.21 125.30 L417.69 125.49 L418.18 125.67 L418.67 125.85 L419.16 126.03 L419.65 126.20 L420.14 126.38 L420.63 126.55 L421.11 126.73 L421.60 126.90 L422.09 127.07 L422.58 127.24 L423.07 127.41 L423.56 127.58 L424.04 127.74 L424.53 127.91 L425.02 128.07 L425.51 128.24 L426.00 128.40 L426.49 128.56 L426.97 128.72 L427.46 128.88 L427.95 129.04 L428.44 129.19 L428.93 129.35 L429.42 129.50 L429.90 129.66 L430.39 129.81 L430.88 129.96 L431.37 130.11 L431.86 130.27 L432.35 130.41 L432.83 130.56 L433.32 130.71 L433.81 130.86 L434.30 131.00 L434.79 131.15 L435.28 131.29 L435.76 131.43 L436.25 131.58 L436.74 131.72 L437.23 131.86 L437.72 132.00 L438.21 132.14 L438.70 132.28 L439.18 132.41 L439.67 132.55 L440.16 132.69 L440.65 132.82 L441.14 132.96 L441.63 133.09 L442.11 133.22 L442.60 133.36 L443.09 133.49 L443.58 133.62 L444.07 133.75 L444.56 133.88 L445.04 134.01 L445.53 134.13 L446.02 134.26 L446.51 134.39 L447.00 134.51 L447.49 134.64 L447.97 134.76 L448.46 134.89 L448.95 135.01 L449.44 135.13 L449.93 135.26 L450.42 135.38 L450.90 135.50 L451.39 135.62 L451.88 135.74 L452.37 135.86 L452.86 135.97 L453.35 136.09 L453.83 136.21 L454.32 136.32 L454.81 136.44 L455.30 136.56 L455.79 136.67 L456.28 136.78 L456.76 136.90 L457.25 137.01 L457.74 137.12 L458.23 137.23 L458.72 137.34 L459.21 137.46 L459.70 137.56 L460.18 137.67 L460.67 137.78 L461.16 137.89 L461.65 138.00 L462.14 138.11 L462.63 138.21 L463.11 138.32 L463.60 138.42 L464.09 138.53 L464.58 138.63 L465.07 138.74 L465.56 138.84 L466.04 138.95 L466.53 139.05 L467.02 139.15 L467.51 139.25 L468.00 139.35 L468.49 139.45 L468.97 139.55 L469.46 139.65 L469.95 139.75 L470.44 139.85 L470.93 139.95 L471.42 140.05 L471.90 140.14 L472.39 140.24 L472.88 140.34 L473.37 140.43 L473.86 140.53 L474.35 140.62 L474.83 140.72 L475.32 140.81 L475.81 140.91 L476.30 141.00 L476.79 141.09 L477.28 141.19 L477.76 141.28 L478.25 141.37 L478.74 141.46 L479.23 141.55 L479.72 141.64 L480.21 141.73 L480.70 141.82 L481.18 141.91 L481.67 142.00 L482.16 142.09 L482.65 142.18 L483.14 142.27 L483.63 142.35 L484.11 142.44 L484.60 142.53 L485.09 142.61 L485.58 142.70 L486.07 142.78 L486.56 142.87 L487.04 142.95 L487.53 143.04 L488.02 143.12 L488.51 143.21 L489.00 143.29 L489.49 143.37 L489.97 143.45 L490.46 143.54 L490.95 143.62 L491.44 143.70 L491.93 143.78 L492.42 143.86 L492.90 143.94 L493.39 144.02 L493.88 144.10 L494.37 144.18 L494.86 144.26 L495.35 144.34 L495.83 144.42 L496.32 144.50 L496.81 144.57 L497.30 144.65" stroke="#000" stroke-width="2.0"/>
</g>
<path d="M301.95 172.85 v-2.7 M301.95 26.45 v2.7 M311.72 172.85 v-1.7 M311.72 26.45 v1.7 M321.49 172.85 v-1.7 M321.49 26.45 v1.7 M331.25 172.85 v-1.7 M331.25 26.45 v1.7 M341.02 172.85 v-1.7 M341.02 26.45 v1.7 M350.79 172.85 v-2.7 M350.79 26.45 v2.7 M360.56 172.85 v-1.7 M360.56 26.45 v1.7 M370.32 172.85 v-1.7 M370.32 26.45 v1.7 M380.09 172.85 v-1.7 M380.09 26.45 v1.7 M389.86 172.85 v-1.7 M389.86 26.45 v1.7 M399.62 172.85 v-2.7 M399.62 26.45 v2.7 M409.39 172.85 v-1.7 M409.39 26.45 v1.7 M419.16 172.85 v-1.7 M419.16 26.45 v1.7 M428.93 172.85 v-1.7 M428.93 26.45 v1.7 M438.7 172.85 v-1.7 M438.7 26.45 v1.7 M448.46 172.85 v-2.7 M448.46 26.45 v2.7 M458.23 172.85 v-1.7 M458.23 26.45 v1.7 M468 172.85 v-1.7 M468 26.45 v1.7 M477.76 172.85 v-1.7 M477.76 26.45 v1.7 M487.53 172.85 v-1.7 M487.53 26.45 v1.7 M497.3 172.85 v-2.7 M497.3 26.45 v2.7 M301.95 168.06 h1.7 M497.3 168.06 h-1.7 M301.95 160.37 h1.7 M497.3 160.37 h-1.7 M301.95 152.68 h1.7 M497.3 152.68 h-1.7 M301.95 144.98 h2.7 M497.3 144.98 h-2.7 M301.95 137.29 h1.7 M497.3 137.29 h-1.7 M301.95 129.6 h1.7 M497.3 129.6 h-1.7 M301.95 121.91 h1.7 M497.3 121.91 h-1.7 M301.95 114.21 h1.7 M497.3 114.21 h-1.7 M301.95 106.52 h2.7 M497.3 106.52 h-2.7 M301.95 98.83 h1.7 M497.3 98.83 h-1.7 M301.95 91.13 h1.7 M497.3 91.13 h-1.7 M301.95 83.44 h1.7 M497.3 83.44 h-1.7 M301.95 75.75 h1.7 M497.3 75.75 h-1.7 M301.95 68.06 h2.7 M497.3 68.06 h-2.7 M301.95 60.36 h1.7 M497.3 60.36 h-1.7 M301.95 52.67 h1.7 M497.3 52.67 h-1.7 M301.95 44.98 h1.7 M497.3 44.98 h-1.7 M301.95 37.28 h1.7 M497.3 37.28 h-1.7 M301.95 29.59 h2.7 M497.3 29.59 h-2.7" stroke="#000" stroke-width="1.1" fill="none"/>
<rect x="301.95" y="26.45" width="195.35" height="146.4" fill="none" stroke="#000" stroke-width="1.0"/>
<text x="301.95" y="188.15" text-anchor="middle" font-size="16.4">0</text>
<text x="350.79" y="188.15" text-anchor="middle" font-size="16.4">5</text>
<text x="399.62" y="188.15" text-anchor="middle" font-size="16.4">10</text>
<text x="448.46" y="188.15" text-anchor="middle" font-size="16.4">15</text>
<text x="497.3" y="188.15" text-anchor="middle" font-size="16.4">20</text>
<text x="299.05" y="148.88" text-anchor="end" font-size="16.4">0.05</text>
<text x="299.05" y="110.42" text-anchor="end" font-size="16.4">0.10</text>
<text x="299.05" y="71.96" text-anchor="end" font-size="16.4">0.15</text>
<text x="299.05" y="33.49" text-anchor="end" font-size="16.4">0.20</text>
<g font-size="18.2"><text x="357.20" y="16.00" font-style="italic" textLength="7.00" lengthAdjust="spacingAndGlyphs">τ</text><text x="372.30" y="16.00" textLength="11.40" lengthAdjust="spacingAndGlyphs">=</text><text x="389.30" y="16.00">5</text><text x="405.00" y="16.00" textLength="37.20" lengthAdjust="spacingAndGlyphs">fm/c</text></g>
<clipPath id="c2"><rect x="556" y="26.4" width="194.9" height="146.4"/></clipPath>
<g clip-path="url(#c2)" fill="none" stroke-linejoin="round">
<path d="M556.00 140.39 L556.49 140.39 L556.97 140.39 L557.46 140.38 L557.95 140.37 L558.44 140.37 L558.92 140.36 L559.41 140.34 L559.90 140.33 L560.39 140.31 L560.87 140.30 L561.36 140.28 L561.85 140.26 L562.33 140.23 L562.82 140.21 L563.31 140.18 L563.80 140.15 L564.28 140.12 L564.77 140.09 L565.26 140.05 L565.75 140.02 L566.23 139.98 L566.72 139.94 L567.21 139.89 L567.69 139.85 L568.18 139.80 L568.67 139.75 L569.16 139.70 L569.64 139.65 L570.13 139.60 L570.62 139.54 L571.10 139.48 L571.59 139.42 L572.08 139.36 L572.57 139.29 L573.05 139.23 L573.54 139.16 L574.03 139.09 L574.52 139.01 L575.00 138.94 L575.49 138.86 L575.98 138.78 L576.46 138.70 L576.95 138.61 L577.44 138.53 L577.93 138.44 L578.41 138.35 L578.90 138.25 L579.39 138.16 L579.88 138.06 L580.36 137.96 L580.85 137.85 L581.34 137.75 L581.82 137.64 L582.31 137.53 L582.80 137.41 L583.29 137.29 L583.77 137.18 L584.26 137.05 L584.75 136.93 L585.24 136.80 L585.72 136.67 L586.21 136.54 L586.70 136.40 L587.18 136.26 L587.67 136.12 L588.16 135.98 L588.65 135.83 L589.13 135.68 L589.62 135.52 L590.11 135.37 L590.59 135.21 L591.08 135.04 L591.57 134.88 L592.06 134.70 L592.54 134.53 L593.03 134.35 L593.52 134.17 L594.01 133.99 L594.49 133.80 L594.98 133.61 L595.47 133.41 L595.95 133.21 L596.44 133.01 L596.93 132.80 L597.42 132.58 L597.90 132.37 L598.39 132.15 L598.88 131.92 L599.37 131.69 L599.85 131.46 L600.34 131.22 L600.83 130.97 L601.31 130.73 L601.80 130.47 L602.29 130.21 L602.78 129.95 L603.26 129.68 L603.75 129.41 L604.24 129.13 L604.73 128.84 L605.21 128.55 L605.70 128.25 L606.19 127.95 L606.67 127.64 L607.16 127.32 L607.65 127.00 L608.14 126.67 L608.62 126.33 L609.11 125.99 L609.60 125.64 L610.08 125.28 L610.57 124.92 L611.06 124.55 L611.55 124.16 L612.03 123.78 L612.52 123.38 L613.01 122.97 L613.50 122.56 L613.98 122.13 L614.47 121.70 L614.96 121.26 L615.44 120.81 L615.93 120.34 L616.42 119.87 L616.91 119.39 L617.39 118.89 L617.88 118.39 L618.37 117.87 L618.86 117.34 L619.34 116.80 L619.83 116.24 L620.32 115.67 L620.80 115.09 L621.29 114.49 L621.78 113.88 L622.27 113.26 L622.75 112.61 L623.24 111.96 L623.73 111.28 L624.22 110.59 L624.70 109.88 L625.19 109.15 L625.68 108.41 L626.16 107.64 L626.65 106.86 L627.14 106.05 L627.63 105.22 L628.11 104.37 L628.60 103.49 L629.09 102.59 L629.57 101.67 L630.06 100.72 L630.55 99.74 L631.04 98.74 L631.52 97.70 L632.01 96.64 L632.50 95.54 L632.99 94.42 L633.47 93.26 L633.96 92.06 L634.45 90.83 L634.93 89.56 L635.42 88.26 L635.91 86.91 L636.40 85.53 L636.88 84.10 L637.37 82.64 L637.86 81.12 L638.35 79.57 L638.83 77.96 L639.32 76.31 L639.81 74.62 L640.29 72.88 L640.78 71.09 L641.27 69.25 L641.76 67.37 L642.24 65.44 L642.73 63.47 L643.22 61.46 L643.71 59.42 L644.19 57.34 L644.68 55.24 L645.17 53.12 L645.65 50.99 L646.14 48.87 L646.63 46.75 L647.12 44.67 L647.60 42.62 L648.09 40.65 L648.58 38.75 L649.06 36.96 L649.55 35.30 L650.04 33.79 L650.53 32.45 L651.01 31.32 L651.50 30.41 L651.99 29.75 L652.48 29.34 L652.96 29.20 L653.45 29.34 L653.94 29.76 L654.42 30.45 L654.91 31.41 L655.40 32.62 L655.89 34.06 L656.37 35.72 L656.86 37.56 L657.35 39.56 L657.84 41.70 L658.32 43.95 L658.81 46.28 L659.30 48.69 L659.78 51.14 L660.27 53.62 L660.76 56.11 L661.25 58.59 L661.73 61.07 L662.22 63.52 L662.71 65.94 L663.19 68.32 L663.68 70.65 L664.17 72.94 L664.66 75.18 L665.14 77.37 L665.63 79.50 L666.12 81.58 L666.61 83.60 L667.09 85.57 L667.58 87.48 L668.07 89.34 L668.55 91.15 L669.04 92.90 L669.53 94.61 L670.02 96.26 L670.50 97.87 L670.99 99.43 L671.48 100.95 L671.97 102.42 L672.45 103.85 L672.94 105.25 L673.43 106.60 L673.91 107.91 L674.40 109.19 L674.89 110.43 L675.38 111.64 L675.86 112.82 L676.35 113.96 L676.84 115.07 L677.33 116.16 L677.81 117.21 L678.30 118.24 L678.79 119.25 L679.27 120.23 L679.76 121.18 L680.25 122.11 L680.74 123.02 L681.22 123.90 L681.71 124.77 L682.20 125.61 L682.68 126.43 L683.17 127.24 L683.66 128.03 L684.15 128.80 L684.63 129.55 L685.12 130.28 L685.61 131.00 L686.10 131.71 L686.58 132.39 L687.07 133.07 L687.56 133.73 L688.04 134.37 L688.53 135.01 L689.02 135.63 L689.51 136.23 L689.99 136.83 L690.48 137.41 L690.97 137.98 L691.46 138.55 L691.94 139.10 L692.43 139.64 L692.92 140.17 L693.40 140.69 L693.89 141.20 L694.38 141.70 L694.87 142.19 L695.35 142.67 L695.84 143.15 L696.33 143.62 L696.82 144.07 L697.30 144.52 L697.79 144.97 L698.28 145.40 L698.76 145.83 L699.25 146.25 L699.74 146.67 L700.23 147.07 L700.71 147.47 L701.20 147.87 L701.69 148.26 L702.17 148.64 L702.66 149.02 L703.15 149.39 L703.64 149.75 L704.12 150.11 L704.61 150.46 L705.10 150.81 L705.59 151.15 L706.07 151.49 L706.56 151.83 L707.05 152.15 L707.53 152.48 L708.02 152.80 L708.51 153.11 L709.00 153.42 L709.48 153.73 L709.97 154.03 L710.46 154.33 L710.95 154.62 L711.43 154.91 L711.92 155.19 L712.41 155.48 L712.89 155.75 L713.38 156.03 L713.87 156.30 L714.36 156.57 L714.84 156.83 L715.33 157.09 L715.82 157.35 L716.31 157.60 L716.79 157.85 L717.28 158.10 L717.77 158.34 L718.25 158.58 L718.74 158.82 L719.23 159.06 L719.72 159.29 L720.20 159.52 L720.69 159.75 L721.18 159.97 L721.66 160.19 L722.15 160.41 L722.64 160.63 L723.13 160.85 L723.61 161.06 L724.10 161.27 L724.59 161.47 L725.08 161.68 L725.56 161.88 L726.05 162.08 L726.54 162.28 L727.02 162.48 L727.51 162.67 L728.00 162.86 L728.49 163.05 L728.97 163.24 L729.46 163.42 L729.95 163.61 L730.44 163.79 L730.92 163.97 L731.41 164.15 L731.90 164.32 L732.38 164.50 L732.87 164.67 L733.36 164.84 L733.85 165.01 L734.33 165.18 L734.82 165.34 L735.31 165.51 L735.80 165.67 L736.28 165.83 L736.77 165.99 L737.26 166.15 L737.74 166.30 L738.23 166.46 L738.72 166.61 L739.21 166.76 L739.69 166.91 L740.18 167.06 L740.67 167.21 L741.15 167.36 L741.64 167.50 L742.13 167.64 L742.62 167.79 L743.10 167.93 L743.59 168.07 L744.08 168.20 L744.57 168.34 L745.05 168.48 L745.54 168.61 L746.03 168.74 L746.51 168.88 L747.00 169.01 L747.49 169.14 L747.98 169.27 L748.46 169.39 L748.95 169.52 L749.44 169.64 L749.93 169.77 L750.41 169.89 L750.90 170.01" stroke="#008000" stroke-width="1.95" stroke-dasharray="11.5 2.4 3.9 2.4"/>
<path d="M556.00 137.45 L556.49 137.44 L556.97 137.44 L557.46 137.44 L557.95 137.43 L558.44 137.42 L558.92 137.41 L559.41 137.40 L559.90 137.39 L560.39 137.37 L560.87 137.36 L561.36 137.34 L561.85 137.32 L562.33 137.29 L562.82 137.27 L563.31 137.24 L563.80 137.22 L564.28 137.19 L564.77 137.15 L565.26 137.12 L565.75 137.09 L566.23 137.05 L566.72 137.01 L567.21 136.97 L567.69 136.92 L568.18 136.88 L568.67 136.83 L569.16 136.78 L569.64 136.73 L570.13 136.68 L570.62 136.63 L571.10 136.57 L571.59 136.51 L572.08 136.45 L572.57 136.39 L573.05 136.32 L573.54 136.26 L574.03 136.19 L574.52 136.12 L575.00 136.04 L575.49 135.97 L575.98 135.89 L576.46 135.81 L576.95 135.73 L577.44 135.65 L577.93 135.56 L578.41 135.47 L578.90 135.38 L579.39 135.29 L579.88 135.19 L580.36 135.10 L580.85 135.00 L581.34 134.89 L581.82 134.79 L582.31 134.68 L582.80 134.57 L583.29 134.46 L583.77 134.34 L584.26 134.23 L584.75 134.11 L585.24 133.98 L585.72 133.86 L586.21 133.73 L586.70 133.60 L587.18 133.46 L587.67 133.33 L588.16 133.19 L588.65 133.05 L589.13 132.90 L589.62 132.75 L590.11 132.60 L590.59 132.45 L591.08 132.29 L591.57 132.13 L592.06 131.96 L592.54 131.79 L593.03 131.62 L593.52 131.45 L594.01 131.27 L594.49 131.09 L594.98 130.90 L595.47 130.71 L595.95 130.52 L596.44 130.32 L596.93 130.12 L597.42 129.92 L597.90 129.71 L598.39 129.50 L598.88 129.28 L599.37 129.06 L599.85 128.83 L600.34 128.60 L600.83 128.37 L601.31 128.13 L601.80 127.89 L602.29 127.64 L602.78 127.38 L603.26 127.12 L603.75 126.86 L604.24 126.59 L604.73 126.31 L605.21 126.03 L605.70 125.75 L606.19 125.46 L606.67 125.16 L607.16 124.85 L607.65 124.54 L608.14 124.23 L608.62 123.90 L609.11 123.57 L609.60 123.24 L610.08 122.89 L610.57 122.54 L611.06 122.18 L611.55 121.82 L612.03 121.44 L612.52 121.06 L613.01 120.67 L613.50 120.27 L613.98 119.86 L614.47 119.45 L614.96 119.02 L615.44 118.58 L615.93 118.14 L616.42 117.68 L616.91 117.22 L617.39 116.74 L617.88 116.26 L618.37 115.76 L618.86 115.25 L619.34 114.72 L619.83 114.19 L620.32 113.64 L620.80 113.08 L621.29 112.51 L621.78 111.92 L622.27 111.32 L622.75 110.70 L623.24 110.07 L623.73 109.42 L624.22 108.75 L624.70 108.07 L625.19 107.37 L625.68 106.65 L626.16 105.91 L626.65 105.15 L627.14 104.38 L627.63 103.58 L628.11 102.76 L628.60 101.91 L629.09 101.04 L629.57 100.15 L630.06 99.24 L630.55 98.29 L631.04 97.32 L631.52 96.32 L632.01 95.29 L632.50 94.24 L632.99 93.15 L633.47 92.02 L633.96 90.87 L634.45 89.68 L634.93 88.45 L635.42 87.19 L635.91 85.88 L636.40 84.54 L636.88 83.16 L637.37 81.73 L637.86 80.26 L638.35 78.75 L638.83 77.19 L639.32 75.58 L639.81 73.93 L640.29 72.24 L640.78 70.49 L641.27 68.70 L641.76 66.86 L642.24 64.98 L642.73 63.05 L643.22 61.08 L643.71 59.08 L644.19 57.04 L644.68 54.98 L645.17 52.90 L645.65 50.80 L646.14 48.71 L646.63 46.62 L647.12 44.56 L647.60 42.55 L648.09 40.59 L648.58 38.71 L649.06 36.93 L649.55 35.28 L650.04 33.78 L650.53 32.45 L651.01 31.32 L651.50 30.41 L651.99 29.75 L652.48 29.34 L652.96 29.20 L653.45 29.34 L653.94 29.76 L654.42 30.45 L654.91 31.40 L655.40 32.60 L655.89 34.03 L656.37 35.66 L656.86 37.47 L657.35 39.43 L657.84 41.51 L658.32 43.69 L658.81 45.94 L659.30 48.24 L659.78 50.57 L660.27 52.91 L660.76 55.24 L661.25 57.54 L661.73 59.81 L662.22 62.04 L662.71 64.23 L663.19 66.35 L663.68 68.42 L664.17 70.43 L664.66 72.38 L665.14 74.26 L665.63 76.08 L666.12 77.85 L666.61 79.54 L667.09 81.18 L667.58 82.76 L668.07 84.28 L668.55 85.75 L669.04 87.16 L669.53 88.51 L670.02 89.82 L670.50 91.07 L670.99 92.28 L671.48 93.45 L671.97 94.56 L672.45 95.64 L672.94 96.68 L673.43 97.68 L673.91 98.64 L674.40 99.57 L674.89 100.47 L675.38 101.33 L675.86 102.17 L676.35 102.98 L676.84 103.76 L677.33 104.51 L677.81 105.25 L678.30 105.96 L678.79 106.65 L679.27 107.31 L679.76 107.96 L680.25 108.59 L680.74 109.20 L681.22 109.80 L681.71 110.38 L682.20 110.94 L682.68 111.49 L683.17 112.03 L683.66 112.55 L684.15 113.06 L684.63 113.56 L685.12 114.05 L685.61 114.53 L686.10 114.99 L686.58 115.45 L687.07 115.90 L687.56 116.33 L688.04 116.76 L688.53 117.18 L689.02 117.60 L689.51 118.00 L689.99 118.40 L690.48 118.79 L690.97 119.17 L691.46 119.55 L691.94 119.92 L692.43 120.28 L692.92 120.64 L693.40 121.00 L693.89 121.34 L694.38 121.69 L694.87 122.02 L695.35 122.36 L695.84 122.68 L696.33 123.01 L696.82 123.32 L697.30 123.64 L697.79 123.95 L698.28 124.25 L698.76 124.56 L699.25 124.85 L699.74 125.15 L700.23 125.44 L700.71 125.72 L701.20 126.01 L701.69 126.29 L702.17 126.56 L702.66 126.84 L703.15 127.11 L703.64 127.38 L704.12 127.64 L704.61 127.90 L705.10 128.16 L705.59 128.41 L706.07 128.67 L706.56 128.92 L707.05 129.16 L707.53 129.41 L708.02 129.65 L708.51 129.89 L709.00 130.13 L709.48 130.36 L709.97 130.60 L710.46 130.83 L710.95 131.06 L711.43 131.28 L711.92 131.51 L712.41 131.73 L712.89 131.95 L713.38 132.16 L713.87 132.38 L714.36 132.59 L714.84 132.80 L715.33 133.01 L715.82 133.22 L716.31 133.43 L716.79 133.63 L717.28 133.83 L717.77 134.04 L718.25 134.23 L718.74 134.43 L719.23 134.63 L719.72 134.82 L720.20 135.01 L720.69 135.20 L721.18 135.39 L721.66 135.58 L722.15 135.77 L722.64 135.95 L723.13 136.14 L723.61 136.32 L724.10 136.50 L724.59 136.68 L725.08 136.86 L725.56 137.04 L726.05 137.21 L726.54 137.39 L727.02 137.56 L727.51 137.73 L728.00 137.90 L728.49 138.07 L728.97 138.24 L729.46 138.40 L729.95 138.57 L730.44 138.73 L730.92 138.90 L731.41 139.06 L731.90 139.22 L732.38 139.38 L732.87 139.54 L733.36 139.69 L733.85 139.85 L734.33 140.01 L734.82 140.16 L735.31 140.31 L735.80 140.47 L736.28 140.62 L736.77 140.77 L737.26 140.92 L737.74 141.07 L738.23 141.21 L738.72 141.36 L739.21 141.50 L739.69 141.65 L740.18 141.79 L740.67 141.94 L741.15 142.08 L741.64 142.22 L742.13 142.36 L742.62 142.50 L743.10 142.63 L743.59 142.77 L744.08 142.91 L744.57 143.04 L745.05 143.18 L745.54 143.31 L746.03 143.45 L746.51 143.58 L747.00 143.71 L747.49 143.84 L747.98 143.97 L748.46 144.10 L748.95 144.23 L749.44 144.36 L749.93 144.48 L750.41 144.61 L750.90 144.74" stroke="#ff0000" stroke-width="2.0" stroke-dasharray="5.1 2.25"/>
<path d="M556.00 137.02 L556.49 137.02 L556.97 137.02 L557.46 137.02 L557.95 137.01 L558.44 137.00 L558.92 136.99 L559.41 136.98 L559.90 136.97 L560.39 136.95 L560.87 136.94 L561.36 136.92 L561.85 136.90 L562.33 136.87 L562.82 136.85 L563.31 136.82 L563.80 136.80 L564.28 136.77 L564.77 136.74 L565.26 136.70 L565.75 136.67 L566.23 136.63 L566.72 136.59 L567.21 136.55 L567.69 136.51 L568.18 136.46 L568.67 136.42 L569.16 136.37 L569.64 136.32 L570.13 136.27 L570.62 136.21 L571.10 136.16 L571.59 136.10 L572.08 136.04 L572.57 135.98 L573.05 135.91 L573.54 135.85 L574.03 135.78 L574.52 135.71 L575.00 135.64 L575.49 135.56 L575.98 135.49 L576.46 135.41 L576.95 135.33 L577.44 135.24 L577.93 135.16 L578.41 135.07 L578.90 134.98 L579.39 134.89 L579.88 134.79 L580.36 134.70 L580.85 134.60 L581.34 134.50 L581.82 134.39 L582.31 134.29 L582.80 134.18 L583.29 134.07 L583.77 133.95 L584.26 133.84 L584.75 133.72 L585.24 133.60 L585.72 133.47 L586.21 133.34 L586.70 133.21 L587.18 133.08 L587.67 132.95 L588.16 132.81 L588.65 132.67 L589.13 132.52 L589.62 132.37 L590.11 132.22 L590.59 132.07 L591.08 131.91 L591.57 131.75 L592.06 131.59 L592.54 131.42 L593.03 131.25 L593.52 131.08 L594.01 130.91 L594.49 130.72 L594.98 130.54 L595.47 130.35 L595.95 130.16 L596.44 129.97 L596.93 129.77 L597.42 129.57 L597.90 129.36 L598.39 129.15 L598.88 128.93 L599.37 128.71 L599.85 128.49 L600.34 128.26 L600.83 128.03 L601.31 127.79 L601.80 127.55 L602.29 127.30 L602.78 127.05 L603.26 126.79 L603.75 126.53 L604.24 126.26 L604.73 125.99 L605.21 125.71 L605.70 125.43 L606.19 125.14 L606.67 124.84 L607.16 124.54 L607.65 124.23 L608.14 123.92 L608.62 123.60 L609.11 123.27 L609.60 122.93 L610.08 122.59 L610.57 122.24 L611.06 121.89 L611.55 121.52 L612.03 121.15 L612.52 120.77 L613.01 120.38 L613.50 119.99 L613.98 119.58 L614.47 119.17 L614.96 118.75 L615.44 118.31 L615.93 117.87 L616.42 117.42 L616.91 116.96 L617.39 116.49 L617.88 116.00 L618.37 115.51 L618.86 115.00 L619.34 114.48 L619.83 113.95 L620.32 113.41 L620.80 112.85 L621.29 112.28 L621.78 111.69 L622.27 111.10 L622.75 110.48 L623.24 109.85 L623.73 109.21 L624.22 108.54 L624.70 107.87 L625.19 107.17 L625.68 106.45 L626.16 105.72 L626.65 104.97 L627.14 104.19 L627.63 103.40 L628.11 102.58 L628.60 101.74 L629.09 100.88 L629.57 99.99 L630.06 99.08 L630.55 98.14 L631.04 97.17 L631.52 96.18 L632.01 95.15 L632.50 94.10 L632.99 93.02 L633.47 91.90 L633.96 90.75 L634.45 89.56 L634.93 88.34 L635.42 87.08 L635.91 85.78 L636.40 84.44 L636.88 83.06 L637.37 81.64 L637.86 80.18 L638.35 78.67 L638.83 77.12 L639.32 75.52 L639.81 73.87 L640.29 72.18 L640.78 70.44 L641.27 68.65 L641.76 66.81 L642.24 64.93 L642.73 63.01 L643.22 61.05 L643.71 59.05 L644.19 57.02 L644.68 54.96 L645.17 52.88 L645.65 50.79 L646.14 48.69 L646.63 46.61 L647.12 44.56 L647.60 42.54 L648.09 40.58 L648.58 38.71 L649.06 36.93 L649.55 35.28 L650.04 33.78 L650.53 32.45 L651.01 31.32 L651.50 30.41 L651.99 29.75 L652.48 29.34 L652.96 29.20 L653.45 29.34 L653.94 29.76 L654.42 30.45 L654.91 31.40 L655.40 32.60 L655.89 34.03 L656.37 35.66 L656.86 37.47 L657.35 39.43 L657.84 41.51 L658.32 43.69 L658.81 45.94 L659.30 48.24 L659.78 50.57 L660.27 52.91 L660.76 55.24 L661.25 57.54 L661.73 59.82 L662.22 62.04 L662.71 64.22 L663.19 66.34 L663.68 68.40 L664.17 70.39 L664.66 72.31 L665.14 74.16 L665.63 75.94 L666.12 77.65 L666.61 79.29 L667.09 80.86 L667.58 82.37 L668.07 83.81 L668.55 85.20 L669.04 86.52 L669.53 87.79 L670.02 89.00 L670.50 90.16 L670.99 91.27 L671.48 92.34 L671.97 93.36 L672.45 94.35 L672.94 95.29 L673.43 96.20 L673.91 97.08 L674.40 97.92 L674.89 98.73 L675.38 99.51 L675.86 100.26 L676.35 100.98 L676.84 101.68 L677.33 102.36 L677.81 103.01 L678.30 103.63 L678.79 104.24 L679.27 104.82 L679.76 105.38 L680.25 105.93 L680.74 106.46 L681.22 106.97 L681.71 107.46 L682.20 107.95 L682.68 108.42 L683.17 108.88 L683.66 109.33 L684.15 109.76 L684.63 110.19 L685.12 110.61 L685.61 111.02 L686.10 111.43 L686.58 111.82 L687.07 112.21 L687.56 112.59 L688.04 112.96 L688.53 113.33 L689.02 113.69 L689.51 114.04 L689.99 114.39 L690.48 114.74 L690.97 115.07 L691.46 115.41 L691.94 115.73 L692.43 116.06 L692.92 116.38 L693.40 116.69 L693.89 117.00 L694.38 117.30 L694.87 117.61 L695.35 117.90 L695.84 118.20 L696.33 118.48 L696.82 118.77 L697.30 119.05 L697.79 119.33 L698.28 119.61 L698.76 119.88 L699.25 120.15 L699.74 120.42 L700.23 120.68 L700.71 120.94 L701.20 121.20 L701.69 121.45 L702.17 121.70 L702.66 121.95 L703.15 122.20 L703.64 122.44 L704.12 122.69 L704.61 122.93 L705.10 123.16 L705.59 123.40 L706.07 123.63 L706.56 123.86 L707.05 124.09 L707.53 124.32 L708.02 124.54 L708.51 124.76 L709.00 124.98 L709.48 125.20 L709.97 125.42 L710.46 125.63 L710.95 125.85 L711.43 126.06 L711.92 126.27 L712.41 126.48 L712.89 126.68 L713.38 126.89 L713.87 127.09 L714.36 127.29 L714.84 127.49 L715.33 127.69 L715.82 127.88 L716.31 128.08 L716.79 128.27 L717.28 128.47 L717.77 128.66 L718.25 128.85 L718.74 129.03 L719.23 129.22 L719.72 129.41 L720.20 129.59 L720.69 129.77 L721.18 129.95 L721.66 130.13 L722.15 130.31 L722.64 130.49 L723.13 130.66 L723.61 130.84 L724.10 131.01 L724.59 131.19 L725.08 131.36 L725.56 131.53 L726.05 131.70 L726.54 131.87 L727.02 132.03 L727.51 132.20 L728.00 132.36 L728.49 132.53 L728.97 132.69 L729.46 132.85 L729.95 133.01 L730.44 133.17 L730.92 133.33 L731.41 133.49 L731.90 133.64 L732.38 133.80 L732.87 133.95 L733.36 134.11 L733.85 134.26 L734.33 134.41 L734.82 134.56 L735.31 134.71 L735.80 134.86 L736.28 135.01 L736.77 135.16 L737.26 135.30 L737.74 135.45 L738.23 135.60 L738.72 135.74 L739.21 135.88 L739.69 136.02 L740.18 136.17 L740.67 136.31 L741.15 136.45 L741.64 136.59 L742.13 136.72 L742.62 136.86 L743.10 137.00 L743.59 137.14 L744.08 137.27 L744.57 137.41 L745.05 137.54 L745.54 137.67 L746.03 137.80 L746.51 137.94 L747.00 138.07 L747.49 138.20 L747.98 138.33 L748.46 138.46 L748.95 138.59 L749.44 138.71 L749.93 138.84 L750.41 138.97 L750.90 139.09" stroke="#000" stroke-width="2.0"/>
</g>
<path d="M556 172.8 v-2.7 M556 26.4 v2.7 M565.75 172.8 v-1.7 M565.75 26.4 v1.7 M575.49 172.8 v-1.7 M575.49 26.4 v1.7 M585.24 172.8 v-1.7 M585.24 26.4 v1.7 M594.98 172.8 v-1.7 M594.98 26.4 v1.7 M604.73 172.8 v-2.7 M604.73 26.4 v2.7 M614.47 172.8 v-1.7 M614.47 26.4 v1.7 M624.22 172.8 v-1.7 M624.22 26.4 v1.7 M633.96 172.8 v-1.7 M633.96 26.4 v1.7 M643.71 172.8 v-1.7 M643.71 26.4 v1.7 M653.45 172.8 v-2.7 M653.45 26.4 v2.7 M663.19 172.8 v-1.7 M663.19 26.4 v1.7 M672.94 172.8 v-1.7 M672.94 26.4 v1.7 M682.68 172.8 v-1.7 M682.68 26.4 v1.7 M692.43 172.8 v-1.7 M692.43 26.4 v1.7 M702.17 172.8 v-2.7 M702.17 26.4 v2.7 M711.92 172.8 v-1.7 M711.92 26.4 v1.7 M721.66 172.8 v-1.7 M721.66 26.4 v1.7 M731.41 172.8 v-1.7 M731.41 26.4 v1.7 M741.15 172.8 v-1.7 M741.15 26.4 v1.7 M750.9 172.8 v-2.7 M750.9 26.4 v2.7 M556 172.34 h1.7 M750.9 172.34 h-1.7 M556 163.92 h2.7 M750.9 163.92 h-2.7 M556 155.5 h1.7 M750.9 155.5 h-1.7 M556 147.08 h1.7 M750.9 147.08 h-1.7 M556 138.66 h1.7 M750.9 138.66 h-1.7 M556 130.24 h2.7 M750.9 130.24 h-2.7 M556 121.82 h1.7 M750.9 121.82 h-1.7 M556 113.4 h1.7 M750.9 113.4 h-1.7 M556 104.98 h1.7 M750.9 104.98 h-1.7 M556 96.56 h2.7 M750.9 96.56 h-2.7 M556 88.14 h1.7 M750.9 88.14 h-1.7 M556 79.72 h1.7 M750.9 79.72 h-1.7 M556 71.3 h1.7 M750.9 71.3 h-1.7 M556 62.88 h2.7 M750.9 62.88 h-2.7 M556 54.46 h1.7 M750.9 54.46 h-1.7 M556 46.04 h1.7 M750.9 46.04 h-1.7 M556 37.62 h1.7 M750.9 37.62 h-1.7 M556 29.2 h2.7 M750.9 29.2 h-2.7" stroke="#000" stroke-width="1.1" fill="none"/>
<rect x="556" y="26.4" width="194.9" height="146.4" fill="none" stroke="#000" stroke-width="1.0"/>
<text x="556" y="188.1" text-anchor="middle" font-size="16.4">0</text>
<text x="604.73" y="188.1" text-anchor="middle" font-size="16.4">5</text>
<text x="653.45" y="188.1" text-anchor="middle" font-size="16.4">10</text>
<text x="702.17" y="188.1" text-anchor="middle" font-size="16.4">15</text>
<text x="750.9" y="188.1" text-anchor="middle" font-size="16.4">20</text>
<text x="553" y="168.22" text-anchor="end" font-size="16.4">0.02</text>
<text x="553" y="134.54" text-anchor="end" font-size="16.4">0.04</text>
<text x="553" y="100.86" text-anchor="end" font-size="16.4">0.06</text>
<text x="553" y="67.18" text-anchor="end" font-size="16.4">0.08</text>
<text x="553" y="33.5" text-anchor="end" font-size="16.4">0.10</text>
<g font-size="18.2"><text x="606.80" y="15.70" font-style="italic" textLength="7.00" lengthAdjust="spacingAndGlyphs">τ</text><text x="621.60" y="15.70" textLength="11.40" lengthAdjust="spacingAndGlyphs">=</text><text x="638.30" y="15.70">10</text><text x="664.10" y="15.70" textLength="37.20" lengthAdjust="spacingAndGlyphs">fm/c</text></g>
<clipPath id="c3"><rect x="51.5" y="197.7" width="193" height="144.8"/></clipPath>
<g clip-path="url(#c3)" fill="none" stroke-linejoin="round">
<path d="M51.50 342.50 L51.98 342.50 L52.47 342.50 L52.95 342.49 L53.43 342.48 L53.91 342.46 L54.40 342.42 L54.88 342.35 L55.36 342.25 L55.84 342.11 L56.33 341.92 L56.81 341.68 L57.29 341.37 L57.77 340.99 L58.26 340.56 L58.74 340.06 L59.22 339.50 L59.70 338.87 L60.19 338.15 L60.67 337.25 L61.15 336.18 L61.63 334.91 L62.12 333.44 L62.60 331.73 L63.08 329.79 L63.56 327.61 L64.05 325.21 L64.53 322.57 L65.01 319.69 L65.49 316.46 L65.97 312.77 L66.46 308.62 L66.94 304.17 L67.42 299.62 L67.91 295.03 L68.39 290.34 L68.87 285.48 L69.35 280.45 L69.84 275.36 L70.32 270.40 L70.80 265.75 L71.28 261.41 L71.77 257.27 L72.25 253.26 L72.73 249.38 L73.21 245.67 L73.69 242.07 L74.18 238.48 L74.66 234.85 L75.14 231.24 L75.62 227.87 L76.11 224.97 L76.59 222.65 L77.07 220.85 L77.56 219.47 L78.04 218.36 L78.52 217.43 L79.00 216.65 L79.48 215.99 L79.97 215.45 L80.45 215.03 L80.93 214.71 L81.42 214.47 L81.90 214.29 L82.38 214.17 L82.86 214.10 L83.34 214.08 L83.83 214.11 L84.31 214.19 L84.79 214.31 L85.28 214.47 L85.76 214.66 L86.24 214.86 L86.72 215.09 L87.20 215.34 L87.69 215.61 L88.17 215.91 L88.65 216.22 L89.14 216.56 L89.62 216.91 L90.10 217.26 L90.58 217.62 L91.06 217.99 L91.55 218.35 L92.03 218.72 L92.51 219.09 L93.00 219.47 L93.48 219.84 L93.96 220.21 L94.44 220.58 L94.92 220.95 L95.41 221.31 L95.89 221.67 L96.37 222.03 L96.86 222.39 L97.34 222.74 L97.82 223.10 L98.30 223.45 L98.78 223.80 L99.27 224.15 L99.75 224.51 L100.23 224.85 L100.72 225.20 L101.20 225.55 L101.68 225.89 L102.16 226.23 L102.65 226.56 L103.13 226.90 L103.61 227.24 L104.09 227.59 L104.58 227.94 L105.06 228.29 L105.54 228.66 L106.02 229.02 L106.51 229.39 L106.99 229.76 L107.47 230.14 L107.95 230.50 L108.44 230.87 L108.92 231.22 L109.40 231.58 L109.88 231.92 L110.37 232.26 L110.85 232.59 L111.33 232.91 L111.81 233.23 L112.30 233.54 L112.78 233.85 L113.26 234.15 L113.74 234.45 L114.22 234.74 L114.71 235.03 L115.19 235.32 L115.67 235.60 L116.16 235.88 L116.64 236.16 L117.12 236.43 L117.60 236.70 L118.09 236.97 L118.57 237.23 L119.05 237.50 L119.53 237.76 L120.02 238.01 L120.50 238.27 L120.98 238.52 L121.46 238.77 L121.95 239.02 L122.43 239.26 L122.91 239.50 L123.39 239.74 L123.88 239.98 L124.36 240.22 L124.84 240.45 L125.32 240.68 L125.81 240.91 L126.29 241.14 L126.77 241.36 L127.25 241.58 L127.73 241.80 L128.22 242.02 L128.70 242.24 L129.18 242.45 L129.66 242.66 L130.15 242.87 L130.63 243.08 L131.11 243.29 L131.59 243.50 L132.08 243.70 L132.56 243.90 L133.04 244.10 L133.53 244.30 L134.01 244.50 L134.49 244.69 L134.97 244.88 L135.46 245.08 L135.94 245.26 L136.42 245.45 L136.90 245.64 L137.38 245.82 L137.87 246.00 L138.35 246.18 L138.83 246.36 L139.31 246.53 L139.80 246.70 L140.28 246.87 L140.76 247.04 L141.25 247.21 L141.73 247.37 L142.21 247.54 L142.69 247.70 L143.18 247.86 L143.66 248.01 L144.14 248.17 L144.62 248.33 L145.11 248.48 L145.59 248.63 L146.07 248.78 L146.55 248.93 L147.03 249.08 L147.52 249.23 L148.00 249.38 L148.48 249.53 L148.97 249.67 L149.45 249.82 L149.93 249.97 L150.41 250.11 L150.90 250.25 L151.38 250.40 L151.86 250.54 L152.34 250.68 L152.82 250.82 L153.31 250.96 L153.79 251.10 L154.27 251.24 L154.76 251.37 L155.24 251.51 L155.72 251.64 L156.20 251.78 L156.69 251.91 L157.17 252.04 L157.65 252.16 L158.13 252.29 L158.62 252.41 L159.10 252.54 L159.58 252.66 L160.06 252.78 L160.55 252.90 L161.03 253.01 L161.51 253.13 L161.99 253.24 L162.47 253.35 L162.96 253.46 L163.44 253.57 L163.92 253.68 L164.41 253.79 L164.89 253.89 L165.37 254.00 L165.85 254.10 L166.34 254.21 L166.82 254.31 L167.30 254.41 L167.78 254.52 L168.27 254.62 L168.75 254.72 L169.23 254.83 L169.71 254.93 L170.19 255.03 L170.68 255.14 L171.16 255.24 L171.64 255.34 L172.12 255.44 L172.61 255.54 L173.09 255.64 L173.57 255.74 L174.06 255.84 L174.54 255.93 L175.02 256.03 L175.50 256.12 L175.99 256.21 L176.47 256.30 L176.95 256.39 L177.43 256.48 L177.92 256.56 L178.40 256.65 L178.88 256.73 L179.36 256.81 L179.84 256.89 L180.33 256.98 L180.81 257.06 L181.29 257.14 L181.78 257.22 L182.26 257.30 L182.74 257.38 L183.22 257.47 L183.71 257.55 L184.19 257.64 L184.67 257.73 L185.15 257.82 L185.64 257.91 L186.12 258.00 L186.60 258.09 L187.08 258.18 L187.56 258.28 L188.05 258.37 L188.53 258.46 L189.01 258.56 L189.50 258.65 L189.98 258.74 L190.46 258.83 L190.94 258.93 L191.43 259.02 L191.91 259.11 L192.39 259.19 L192.87 259.28 L193.36 259.37 L193.84 259.45 L194.32 259.54 L194.80 259.62 L195.29 259.70 L195.77 259.78 L196.25 259.86 L196.73 259.94 L197.22 260.02 L197.70 260.10 L198.18 260.18 L198.66 260.26 L199.15 260.33 L199.63 260.41 L200.11 260.48 L200.59 260.56 L201.07 260.63 L201.56 260.71 L202.04 260.78 L202.52 260.86 L203.01 260.93 L203.49 261.01 L203.97 261.08 L204.45 261.15 L204.94 261.23 L205.42 261.30 L205.90 261.37 L206.38 261.44 L206.87 261.52 L207.35 261.59 L207.83 261.66 L208.31 261.73 L208.80 261.80 L209.28 261.87 L209.76 261.95 L210.24 262.02 L210.72 262.09 L211.21 262.16 L211.69 262.23 L212.17 262.30 L212.66 262.37 L213.14 262.44 L213.62 262.51 L214.10 262.57 L214.59 262.64 L215.07 262.71 L215.55 262.78 L216.03 262.85 L216.52 262.91 L217.00 262.98 L217.48 263.04 L217.96 263.11 L218.44 263.17 L218.93 263.24 L219.41 263.30 L219.89 263.37 L220.38 263.43 L220.86 263.49 L221.34 263.55 L221.82 263.61 L222.31 263.67 L222.79 263.73 L223.27 263.79 L223.75 263.85 L224.24 263.90 L224.72 263.96 L225.20 264.02 L225.68 264.07 L226.17 264.13 L226.65 264.18 L227.13 264.24 L227.61 264.29 L228.09 264.35 L228.58 264.40 L229.06 264.45 L229.54 264.50 L230.03 264.56 L230.51 264.61 L230.99 264.66 L231.47 264.71 L231.95 264.76 L232.44 264.81 L232.92 264.86 L233.40 264.91 L233.89 264.96 L234.37 265.01 L234.85 265.06 L235.33 265.11 L235.81 265.16 L236.30 265.21 L236.78 265.26 L237.26 265.30 L237.75 265.35 L238.23 265.40 L238.71 265.45 L239.19 265.50 L239.68 265.54 L240.16 265.59 L240.64 265.64 L241.12 265.68 L241.61 265.73 L242.09 265.77 L242.57 265.82 L243.05 265.87 L243.54 265.91 L244.02 265.96 L244.50 266.00" stroke="#000" stroke-width="1.9"/>
<path d="M51.50 342.50 L51.98 342.50 L52.47 342.50 L52.95 342.49 L53.43 342.48 L53.91 342.46 L54.40 342.42 L54.88 342.35 L55.36 342.25 L55.84 342.11 L56.33 341.92 L56.81 341.68 L57.29 341.37 L57.77 340.99 L58.26 340.56 L58.74 340.06 L59.22 339.50 L59.70 338.87 L60.19 338.15 L60.67 337.25 L61.15 336.18 L61.63 334.91 L62.12 333.44 L62.60 331.73 L63.08 329.79 L63.56 327.60 L64.05 325.19 L64.53 322.55 L65.01 319.72 L65.49 316.77 L65.97 313.78 L66.46 310.79 L66.94 307.75 L67.42 304.62 L67.91 301.37 L68.39 298.00 L68.87 294.55 L69.35 291.03 L69.84 287.44 L70.32 283.76 L70.80 280.01 L71.28 276.23 L71.77 272.50 L72.25 268.89 L72.73 265.46 L73.21 262.19 L73.69 259.09 L74.18 256.13 L74.66 253.31 L75.14 250.68 L75.62 248.25 L76.11 246.03 L76.59 244.00 L77.07 242.15 L77.56 240.49 L78.04 239.01 L78.52 237.70 L79.00 236.54 L79.48 235.51 L79.97 234.61 L80.45 233.82 L80.93 233.15 L81.42 232.59 L81.90 232.13 L82.38 231.77 L82.86 231.48 L83.34 231.28 L83.83 231.14 L84.31 231.05 L84.79 230.99 L85.28 230.97 L85.76 230.97 L86.24 231.00 L86.72 231.07 L87.20 231.16 L87.69 231.28 L88.17 231.41 L88.65 231.54 L89.14 231.67 L89.62 231.80 L90.10 231.94 L90.58 232.09 L91.06 232.26 L91.55 232.48 L92.03 232.72 L92.51 232.99 L93.00 233.27 L93.48 233.56 L93.96 233.84 L94.44 234.12 L94.92 234.39 L95.41 234.65 L95.89 234.91 L96.37 235.16 L96.86 235.42 L97.34 235.68 L97.82 235.93 L98.30 236.18 L98.78 236.43 L99.27 236.68 L99.75 236.92 L100.23 237.15 L100.72 237.39 L101.20 237.63 L101.68 237.88 L102.16 238.13 L102.65 238.38 L103.13 238.65 L103.61 238.92 L104.09 239.20 L104.58 239.49 L105.06 239.77 L105.54 240.07 L106.02 240.36 L106.51 240.66 L106.99 240.96 L107.47 241.26 L107.95 241.55 L108.44 241.85 L108.92 242.15 L109.40 242.44 L109.88 242.73 L110.37 243.02 L110.85 243.31 L111.33 243.60 L111.81 243.89 L112.30 244.17 L112.78 244.46 L113.26 244.74 L113.74 245.03 L114.22 245.31 L114.71 245.59 L115.19 245.87 L115.67 246.14 L116.16 246.41 L116.64 246.68 L117.12 246.95 L117.60 247.21 L118.09 247.47 L118.57 247.72 L119.05 247.97 L119.53 248.22 L120.02 248.46 L120.50 248.70 L120.98 248.93 L121.46 249.17 L121.95 249.39 L122.43 249.62 L122.91 249.84 L123.39 250.06 L123.88 250.28 L124.36 250.50 L124.84 250.71 L125.32 250.92 L125.81 251.12 L126.29 251.33 L126.77 251.53 L127.25 251.73 L127.73 251.92 L128.22 252.12 L128.70 252.31 L129.18 252.49 L129.66 252.68 L130.15 252.86 L130.63 253.04 L131.11 253.22 L131.59 253.39 L132.08 253.57 L132.56 253.74 L133.04 253.91 L133.53 254.07 L134.01 254.24 L134.49 254.40 L134.97 254.56 L135.46 254.72 L135.94 254.88 L136.42 255.03 L136.90 255.19 L137.38 255.34 L137.87 255.49 L138.35 255.64 L138.83 255.79 L139.31 255.94 L139.80 256.09 L140.28 256.23 L140.76 256.38 L141.25 256.52 L141.73 256.67 L142.21 256.81 L142.69 256.95 L143.18 257.09 L143.66 257.22 L144.14 257.36 L144.62 257.50 L145.11 257.63 L145.59 257.77 L146.07 257.90 L146.55 258.03 L147.03 258.16 L147.52 258.30 L148.00 258.43 L148.48 258.56 L148.97 258.69 L149.45 258.82 L149.93 258.94 L150.41 259.07 L150.90 259.20 L151.38 259.33 L151.86 259.45 L152.34 259.58 L152.82 259.70 L153.31 259.83 L153.79 259.95 L154.27 260.07 L154.76 260.19 L155.24 260.31 L155.72 260.43 L156.20 260.55 L156.69 260.67 L157.17 260.78 L157.65 260.90 L158.13 261.01 L158.62 261.12 L159.10 261.23 L159.58 261.34 L160.06 261.45 L160.55 261.56 L161.03 261.66 L161.51 261.76 L161.99 261.87 L162.47 261.97 L162.96 262.07 L163.44 262.17 L163.92 262.27 L164.41 262.36 L164.89 262.46 L165.37 262.56 L165.85 262.65 L166.34 262.75 L166.82 262.84 L167.30 262.93 L167.78 263.03 L168.27 263.12 L168.75 263.21 L169.23 263.30 L169.71 263.40 L170.19 263.49 L170.68 263.58 L171.16 263.67 L171.64 263.76 L172.12 263.85 L172.61 263.94 L173.09 264.02 L173.57 264.11 L174.06 264.19 L174.54 264.27 L175.02 264.35 L175.50 264.43 L175.99 264.51 L176.47 264.58 L176.95 264.66 L177.43 264.73 L177.92 264.80 L178.40 264.86 L178.88 264.93 L179.36 265.00 L179.84 265.06 L180.33 265.13 L180.81 265.19 L181.29 265.26 L181.78 265.32 L182.26 265.39 L182.74 265.46 L183.22 265.53 L183.71 265.61 L184.19 265.68 L184.67 265.76 L185.15 265.84 L185.64 265.92 L186.12 266.01 L186.60 266.09 L187.08 266.18 L187.56 266.27 L188.05 266.36 L188.53 266.45 L189.01 266.54 L189.50 266.63 L189.98 266.72 L190.46 266.81 L190.94 266.90 L191.43 266.99 L191.91 267.08 L192.39 267.17 L192.87 267.26 L193.36 267.35 L193.84 267.43 L194.32 267.52 L194.80 267.60 L195.29 267.68 L195.77 267.76 L196.25 267.84 L196.73 267.92 L197.22 268.00 L197.70 268.08 L198.18 268.15 L198.66 268.22 L199.15 268.30 L199.63 268.37 L200.11 268.44 L200.59 268.51 L201.07 268.58 L201.56 268.64 L202.04 268.71 L202.52 268.78 L203.01 268.84 L203.49 268.90 L203.97 268.97 L204.45 269.03 L204.94 269.09 L205.42 269.15 L205.90 269.21 L206.38 269.27 L206.87 269.33 L207.35 269.39 L207.83 269.45 L208.31 269.51 L208.80 269.57 L209.28 269.63 L209.76 269.69 L210.24 269.75 L210.72 269.81 L211.21 269.87 L211.69 269.93 L212.17 269.99 L212.66 270.05 L213.14 270.11 L213.62 270.17 L214.10 270.23 L214.59 270.29 L215.07 270.35 L215.55 270.41 L216.03 270.47 L216.52 270.54 L217.00 270.60 L217.48 270.66 L217.96 270.72 L218.44 270.78 L218.93 270.84 L219.41 270.89 L219.89 270.95 L220.38 271.01 L220.86 271.07 L221.34 271.12 L221.82 271.18 L222.31 271.24 L222.79 271.29 L223.27 271.35 L223.75 271.40 L224.24 271.45 L224.72 271.50 L225.20 271.56 L225.68 271.61 L226.17 271.66 L226.65 271.71 L227.13 271.76 L227.61 271.81 L228.09 271.85 L228.58 271.90 L229.06 271.95 L229.54 272.00 L230.03 272.04 L230.51 272.09 L230.99 272.14 L231.47 272.18 L231.95 272.23 L232.44 272.27 L232.92 272.32 L233.40 272.36 L233.89 272.41 L234.37 272.45 L234.85 272.50 L235.33 272.54 L235.81 272.58 L236.30 272.63 L236.78 272.67 L237.26 272.71 L237.75 272.76 L238.23 272.80 L238.71 272.84 L239.19 272.88 L239.68 272.93 L240.16 272.97 L240.64 273.01 L241.12 273.05 L241.61 273.09 L242.09 273.13 L242.57 273.17 L243.05 273.22 L243.54 273.26 L244.02 273.30 L244.50 273.34" stroke="#ff0000" stroke-width="2.0" stroke-dasharray="5.1 2.25"/>
</g>
<path d="M51.5 342.5 v-2.7 M51.5 197.7 v2.7 M61.15 342.5 v-1.7 M61.15 197.7 v1.7 M70.8 342.5 v-1.7 M70.8 197.7 v1.7 M80.45 342.5 v-1.7 M80.45 197.7 v1.7 M90.1 342.5 v-1.7 M90.1 197.7 v1.7 M99.75 342.5 v-2.7 M99.75 197.7 v2.7 M109.4 342.5 v-1.7 M109.4 197.7 v1.7 M119.05 342.5 v-1.7 M119.05 197.7 v1.7 M128.7 342.5 v-1.7 M128.7 197.7 v1.7 M138.35 342.5 v-1.7 M138.35 197.7 v1.7 M148 342.5 v-2.7 M148 197.7 v2.7 M157.65 342.5 v-1.7 M157.65 197.7 v1.7 M167.3 342.5 v-1.7 M167.3 197.7 v1.7 M176.95 342.5 v-1.7 M176.95 197.7 v1.7 M186.6 342.5 v-1.7 M186.6 197.7 v1.7 M196.25 342.5 v-2.7 M196.25 197.7 v2.7 M205.9 342.5 v-1.7 M205.9 197.7 v1.7 M215.55 342.5 v-1.7 M215.55 197.7 v1.7 M225.2 342.5 v-1.7 M225.2 197.7 v1.7 M234.85 342.5 v-1.7 M234.85 197.7 v1.7 M244.5 342.5 v-2.7 M244.5 197.7 v2.7 M51.5 342.5 h2.7 M244.5 342.5 h-2.7 M51.5 336.92 h1.7 M244.5 336.92 h-1.7 M51.5 331.35 h1.7 M244.5 331.35 h-1.7 M51.5 325.77 h1.7 M244.5 325.77 h-1.7 M51.5 320.19 h2.7 M244.5 320.19 h-2.7 M51.5 314.61 h1.7 M244.5 314.61 h-1.7 M51.5 309.03 h1.7 M244.5 309.03 h-1.7 M51.5 303.46 h1.7 M244.5 303.46 h-1.7 M51.5 297.88 h2.7 M244.5 297.88 h-2.7 M51.5 292.3 h1.7 M244.5 292.3 h-1.7 M51.5 286.73 h1.7 M244.5 286.73 h-1.7 M51.5 281.15 h1.7 M244.5 281.15 h-1.7 M51.5 275.57 h2.7 M244.5 275.57 h-2.7 M51.5 269.99 h1.7 M244.5 269.99 h-1.7 M51.5 264.41 h1.7 M244.5 264.41 h-1.7 M51.5 258.84 h1.7 M244.5 258.84 h-1.7 M51.5 253.26 h2.7 M244.5 253.26 h-2.7 M51.5 247.68 h1.7 M244.5 247.68 h-1.7 M51.5 242.11 h1.7 M244.5 242.11 h-1.7 M51.5 236.53 h1.7 M244.5 236.53 h-1.7 M51.5 230.95 h2.7 M244.5 230.95 h-2.7 M51.5 225.37 h1.7 M244.5 225.37 h-1.7 M51.5 219.79 h1.7 M244.5 219.79 h-1.7 M51.5 214.22 h1.7 M244.5 214.22 h-1.7 M51.5 208.64 h2.7 M244.5 208.64 h-2.7 M51.5 203.06 h1.7 M244.5 203.06 h-1.7" stroke="#000" stroke-width="1.1" fill="none"/>
<rect x="51.5" y="197.7" width="193" height="144.8" fill="none" stroke="#000" stroke-width="1.0"/>
<text x="51.5" y="357.8" text-anchor="middle" font-size="16.4">0</text>
<text x="99.75" y="357.8" text-anchor="middle" font-size="16.4">5</text>
<text x="148" y="357.8" text-anchor="middle" font-size="16.4">10</text>
<text x="196.25" y="357.8" text-anchor="middle" font-size="16.4">15</text>
<text x="244.5" y="357.8" text-anchor="middle" font-size="16.4">20</text>
<text x="48.5" y="346.3" text-anchor="end" font-size="16.4">0.0</text>
<text x="48.5" y="323.99" text-anchor="end" font-size="16.4">0.2</text>
<text x="48.5" y="301.68" text-anchor="end" font-size="16.4">0.4</text>
<text x="48.5" y="279.37" text-anchor="end" font-size="16.4">0.6</text>
<text x="48.5" y="257.06" text-anchor="end" font-size="16.4">0.8</text>
<text x="48.5" y="234.75" text-anchor="end" font-size="16.4">1.0</text>
<text x="48.5" y="212.44" text-anchor="end" font-size="16.4">1.2</text>
<text x="148" y="381.6" text-anchor="middle" font-size="17">r [fm]</text>
<clipPath id="c4"><rect x="303.4" y="197.7" width="193.2" height="144.8"/></clipPath>
<g clip-path="url(#c4)" fill="none" stroke-linejoin="round">
<path d="M303.40 328.56 L303.88 328.56 L304.37 328.56 L304.85 328.57 L305.33 328.57 L305.81 328.58 L306.30 328.60 L306.78 328.61 L307.26 328.63 L307.75 328.65 L308.23 328.67 L308.71 328.69 L309.20 328.72 L309.68 328.74 L310.16 328.77 L310.64 328.81 L311.13 328.84 L311.61 328.88 L312.09 328.92 L312.58 328.96 L313.06 329.01 L313.54 329.05 L314.03 329.10 L314.51 329.16 L314.99 329.21 L315.47 329.27 L315.96 329.33 L316.44 329.39 L316.92 329.46 L317.41 329.52 L317.89 329.59 L318.37 329.67 L318.86 329.75 L319.34 329.82 L319.82 329.91 L320.31 329.99 L320.79 330.08 L321.27 330.17 L321.75 330.27 L322.24 330.36 L322.72 330.47 L323.20 330.57 L323.69 330.68 L324.17 330.79 L324.65 330.90 L325.13 331.02 L325.62 331.14 L326.10 331.26 L326.58 331.39 L327.07 331.52 L327.55 331.65 L328.03 331.79 L328.52 331.93 L329.00 332.08 L329.48 332.23 L329.96 332.39 L330.45 332.55 L330.93 332.71 L331.41 332.88 L331.90 333.06 L332.38 333.24 L332.86 333.43 L333.35 333.62 L333.83 333.82 L334.31 334.02 L334.79 334.23 L335.28 334.44 L335.76 334.66 L336.24 334.88 L336.73 335.10 L337.21 335.33 L337.69 335.57 L338.18 335.81 L338.66 336.04 L339.14 336.28 L339.62 336.53 L340.11 336.77 L340.59 337.02 L341.07 337.27 L341.56 337.52 L342.04 337.79 L342.52 338.07 L343.01 338.36 L343.49 338.66 L343.97 338.97 L344.45 339.29 L344.94 339.62 L345.42 339.94 L345.90 340.27 L346.39 340.60 L346.87 340.92 L347.35 341.23 L347.84 341.52 L348.32 341.79 L348.80 342.03 L349.28 342.23 L349.77 342.37 L350.25 342.47 L350.73 342.50 L351.22 342.40 L351.70 342.12 L352.18 341.69 L352.67 341.12 L353.15 340.46 L353.63 339.73 L354.12 338.95 L354.60 338.08 L355.08 337.02 L355.56 335.80 L356.05 334.41 L356.53 332.85 L357.01 331.12 L357.50 329.24 L357.98 327.21 L358.46 325.05 L358.94 322.78 L359.43 320.38 L359.91 317.81 L360.39 315.02 L360.88 311.97 L361.36 308.69 L361.84 305.29 L362.33 301.86 L362.81 298.46 L363.29 295.08 L363.77 291.70 L364.26 288.28 L364.74 284.81 L365.22 281.29 L365.71 277.77 L366.19 274.30 L366.67 270.95 L367.16 267.77 L367.64 264.76 L368.12 261.91 L368.61 259.18 L369.09 256.54 L369.57 253.96 L370.05 251.46 L370.54 249.03 L371.02 246.69 L371.50 244.42 L371.99 242.19 L372.47 239.99 L372.95 237.78 L373.44 235.57 L373.92 233.37 L374.40 231.21 L374.88 229.15 L375.37 227.25 L375.85 225.53 L376.33 224.02 L376.82 222.71 L377.30 221.60 L377.78 220.65 L378.26 219.83 L378.75 219.12 L379.23 218.50 L379.71 217.94 L380.20 217.43 L380.68 216.97 L381.16 216.56 L381.65 216.18 L382.13 215.84 L382.61 215.55 L383.10 215.28 L383.58 215.06 L384.06 214.87 L384.54 214.70 L385.03 214.56 L385.51 214.45 L385.99 214.34 L386.48 214.26 L386.96 214.19 L387.44 214.14 L387.93 214.10 L388.41 214.08 L388.89 214.08 L389.37 214.09 L389.86 214.11 L390.34 214.15 L390.82 214.20 L391.31 214.26 L391.79 214.33 L392.27 214.41 L392.75 214.50 L393.24 214.60 L393.72 214.70 L394.20 214.81 L394.69 214.92 L395.17 215.04 L395.65 215.17 L396.14 215.30 L396.62 215.44 L397.10 215.58 L397.59 215.73 L398.07 215.88 L398.55 216.04 L399.03 216.21 L399.52 216.38 L400.00 216.55 L400.48 216.73 L400.97 216.91 L401.45 217.09 L401.93 217.27 L402.41 217.45 L402.90 217.64 L403.38 217.82 L403.86 218.01 L404.35 218.19 L404.83 218.38 L405.31 218.57 L405.80 218.75 L406.28 218.94 L406.76 219.13 L407.25 219.31 L407.73 219.50 L408.21 219.69 L408.69 219.87 L409.18 220.06 L409.66 220.25 L410.14 220.43 L410.63 220.61 L411.11 220.80 L411.59 220.98 L412.07 221.16 L412.56 221.34 L413.04 221.52 L413.52 221.70 L414.01 221.88 L414.49 222.05 L414.97 222.23 L415.46 222.40 L415.94 222.58 L416.42 222.75 L416.90 222.93 L417.39 223.10 L417.87 223.28 L418.35 223.45 L418.84 223.62 L419.32 223.80 L419.80 223.97 L420.29 224.14 L420.77 224.31 L421.25 224.48 L421.74 224.65 L422.22 224.82 L422.70 224.99 L423.18 225.16 L423.67 225.33 L424.15 225.50 L424.63 225.66 L425.12 225.83 L425.60 225.99 L426.08 226.16 L426.56 226.32 L427.05 226.49 L427.53 226.65 L428.01 226.81 L428.50 226.98 L428.98 227.14 L429.46 227.31 L429.95 227.47 L430.43 227.64 L430.91 227.81 L431.39 227.98 L431.88 228.15 L432.36 228.32 L432.84 228.49 L433.33 228.67 L433.81 228.84 L434.29 229.02 L434.78 229.20 L435.26 229.38 L435.74 229.55 L436.23 229.73 L436.71 229.91 L437.19 230.09 L437.67 230.26 L438.16 230.44 L438.64 230.61 L439.12 230.79 L439.61 230.96 L440.09 231.13 L440.57 231.30 L441.06 231.47 L441.54 231.63 L442.02 231.80 L442.50 231.96 L442.99 232.12 L443.47 232.28 L443.95 232.44 L444.44 232.59 L444.92 232.75 L445.40 232.90 L445.88 233.05 L446.37 233.20 L446.85 233.35 L447.33 233.50 L447.82 233.64 L448.30 233.79 L448.78 233.93 L449.27 234.07 L449.75 234.22 L450.23 234.36 L450.72 234.50 L451.20 234.64 L451.68 234.77 L452.16 234.91 L452.65 235.05 L453.13 235.18 L453.61 235.32 L454.10 235.45 L454.58 235.58 L455.06 235.72 L455.55 235.85 L456.03 235.98 L456.51 236.11 L456.99 236.24 L457.48 236.37 L457.96 236.49 L458.44 236.62 L458.93 236.75 L459.41 236.87 L459.89 237.00 L460.38 237.12 L460.86 237.25 L461.34 237.37 L461.82 237.49 L462.31 237.61 L462.79 237.74 L463.27 237.86 L463.76 237.98 L464.24 238.10 L464.72 238.22 L465.21 238.33 L465.69 238.45 L466.17 238.57 L466.65 238.69 L467.14 238.80 L467.62 238.92 L468.10 239.03 L468.59 239.15 L469.07 239.26 L469.55 239.38 L470.04 239.49 L470.52 239.60 L471.00 239.71 L471.48 239.82 L471.97 239.93 L472.45 240.04 L472.93 240.15 L473.42 240.26 L473.90 240.37 L474.38 240.48 L474.87 240.59 L475.35 240.69 L475.83 240.80 L476.31 240.91 L476.80 241.01 L477.28 241.12 L477.76 241.22 L478.25 241.33 L478.73 241.43 L479.21 241.53 L479.70 241.64 L480.18 241.74 L480.66 241.84 L481.14 241.94 L481.63 242.04 L482.11 242.14 L482.59 242.24 L483.08 242.34 L483.56 242.44 L484.04 242.54 L484.53 242.64 L485.01 242.74 L485.49 242.83 L485.97 242.93 L486.46 243.03 L486.94 243.12 L487.42 243.22 L487.91 243.32 L488.39 243.41 L488.87 243.51 L489.36 243.60 L489.84 243.69 L490.32 243.79 L490.80 243.88 L491.29 243.97 L491.77 244.07 L492.25 244.16 L492.74 244.25 L493.22 244.34 L493.70 244.43 L494.19 244.52 L494.67 244.61 L495.15 244.70 L495.63 244.79 L496.12 244.88 L496.60 244.97" stroke="#000" stroke-width="1.9"/>
<path d="M303.40 330.15 L303.88 330.15 L304.37 330.16 L304.85 330.16 L305.33 330.17 L305.81 330.18 L306.30 330.19 L306.78 330.20 L307.26 330.21 L307.75 330.23 L308.23 330.24 L308.71 330.26 L309.20 330.28 L309.68 330.31 L310.16 330.33 L310.64 330.36 L311.13 330.39 L311.61 330.42 L312.09 330.45 L312.58 330.49 L313.06 330.52 L313.54 330.56 L314.03 330.61 L314.51 330.65 L314.99 330.69 L315.47 330.74 L315.96 330.79 L316.44 330.85 L316.92 330.90 L317.41 330.96 L317.89 331.02 L318.37 331.08 L318.86 331.15 L319.34 331.21 L319.82 331.28 L320.31 331.36 L320.79 331.43 L321.27 331.51 L321.75 331.59 L322.24 331.68 L322.72 331.76 L323.20 331.85 L323.69 331.94 L324.17 332.04 L324.65 332.14 L325.13 332.24 L325.62 332.34 L326.10 332.45 L326.58 332.56 L327.07 332.67 L327.55 332.79 L328.03 332.90 L328.52 333.03 L329.00 333.15 L329.48 333.29 L329.96 333.42 L330.45 333.56 L330.93 333.70 L331.41 333.85 L331.90 334.00 L332.38 334.16 L332.86 334.32 L333.35 334.49 L333.83 334.66 L334.31 334.83 L334.79 335.01 L335.28 335.20 L335.76 335.39 L336.24 335.58 L336.73 335.78 L337.21 335.99 L337.69 336.19 L338.18 336.40 L338.66 336.61 L339.14 336.82 L339.62 337.04 L340.11 337.26 L340.59 337.48 L341.07 337.70 L341.56 337.93 L342.04 338.17 L342.52 338.42 L343.01 338.69 L343.49 338.96 L343.97 339.25 L344.45 339.54 L344.94 339.84 L345.42 340.14 L345.90 340.44 L346.39 340.74 L346.87 341.04 L347.35 341.32 L347.84 341.59 L348.32 341.84 L348.80 342.06 L349.28 342.25 L349.77 342.38 L350.25 342.47 L350.73 342.50 L351.22 342.40 L351.70 342.12 L352.18 341.69 L352.67 341.12 L353.15 340.46 L353.63 339.73 L354.12 338.95 L354.60 338.08 L355.08 337.02 L355.56 335.80 L356.05 334.41 L356.53 332.85 L357.01 331.12 L357.50 329.23 L357.98 327.20 L358.46 325.03 L358.94 322.76 L359.43 320.39 L359.91 317.97 L360.39 315.56 L360.88 313.18 L361.36 310.84 L361.84 308.51 L362.33 306.18 L362.81 303.81 L363.29 301.40 L363.77 298.98 L364.26 296.53 L364.74 294.07 L365.22 291.61 L365.71 289.15 L366.19 286.67 L366.67 284.18 L367.16 281.68 L367.64 279.17 L368.12 276.68 L368.61 274.23 L369.09 271.84 L369.57 269.52 L370.05 267.29 L370.54 265.15 L371.02 263.09 L371.50 261.11 L371.99 259.20 L372.47 257.35 L372.95 255.57 L373.44 253.86 L373.92 252.22 L374.40 250.66 L374.88 249.18 L375.37 247.79 L375.85 246.47 L376.33 245.23 L376.82 244.06 L377.30 242.96 L377.78 241.92 L378.26 240.95 L378.75 240.05 L379.23 239.21 L379.71 238.43 L380.20 237.70 L380.68 237.03 L381.16 236.40 L381.65 235.81 L382.13 235.27 L382.61 234.77 L383.10 234.30 L383.58 233.87 L384.06 233.48 L384.54 233.13 L385.03 232.81 L385.51 232.53 L385.99 232.27 L386.48 232.04 L386.96 231.84 L387.44 231.67 L387.93 231.52 L388.41 231.40 L388.89 231.29 L389.37 231.21 L389.86 231.14 L390.34 231.09 L390.82 231.04 L391.31 231.01 L391.79 230.99 L392.27 230.97 L392.75 230.97 L393.24 230.97 L393.72 230.97 L394.20 230.99 L394.69 231.02 L395.17 231.05 L395.65 231.09 L396.14 231.14 L396.62 231.20 L397.10 231.26 L397.59 231.33 L398.07 231.40 L398.55 231.46 L399.03 231.53 L399.52 231.60 L400.00 231.67 L400.48 231.74 L400.97 231.80 L401.45 231.87 L401.93 231.94 L402.41 232.01 L402.90 232.09 L403.38 232.18 L403.86 232.27 L404.35 232.38 L404.83 232.49 L405.31 232.61 L405.80 232.74 L406.28 232.88 L406.76 233.01 L407.25 233.16 L407.73 233.30 L408.21 233.44 L408.69 233.59 L409.18 233.73 L409.66 233.87 L410.14 234.01 L410.63 234.14 L411.11 234.28 L411.59 234.41 L412.07 234.54 L412.56 234.67 L413.04 234.80 L413.52 234.92 L414.01 235.05 L414.49 235.18 L414.97 235.31 L415.46 235.43 L415.94 235.56 L416.42 235.69 L416.90 235.81 L417.39 235.94 L417.87 236.06 L418.35 236.18 L418.84 236.31 L419.32 236.43 L419.80 236.55 L420.29 236.67 L420.77 236.78 L421.25 236.90 L421.74 237.02 L422.22 237.13 L422.70 237.25 L423.18 237.36 L423.67 237.48 L424.15 237.60 L424.63 237.72 L425.12 237.83 L425.60 237.95 L426.08 238.08 L426.56 238.20 L427.05 238.32 L427.53 238.45 L428.01 238.58 L428.50 238.71 L428.98 238.84 L429.46 238.97 L429.95 239.11 L430.43 239.24 L430.91 239.38 L431.39 239.52 L431.88 239.66 L432.36 239.80 L432.84 239.94 L433.33 240.08 L433.81 240.22 L434.29 240.36 L434.78 240.50 L435.26 240.65 L435.74 240.79 L436.23 240.93 L436.71 241.08 L437.19 241.22 L437.67 241.36 L438.16 241.50 L438.64 241.64 L439.12 241.79 L439.61 241.93 L440.09 242.07 L440.57 242.21 L441.06 242.35 L441.54 242.49 L442.02 242.63 L442.50 242.76 L442.99 242.90 L443.47 243.04 L443.95 243.18 L444.44 243.32 L444.92 243.45 L445.40 243.59 L445.88 243.73 L446.37 243.86 L446.85 244.00 L447.33 244.13 L447.82 244.27 L448.30 244.40 L448.78 244.54 L449.27 244.67 L449.75 244.81 L450.23 244.94 L450.72 245.08 L451.20 245.21 L451.68 245.34 L452.16 245.47 L452.65 245.61 L453.13 245.74 L453.61 245.87 L454.10 246.00 L454.58 246.13 L455.06 246.25 L455.55 246.38 L456.03 246.51 L456.51 246.64 L456.99 246.76 L457.48 246.89 L457.96 247.01 L458.44 247.13 L458.93 247.25 L459.41 247.38 L459.89 247.50 L460.38 247.61 L460.86 247.73 L461.34 247.85 L461.82 247.97 L462.31 248.08 L462.79 248.20 L463.27 248.31 L463.76 248.43 L464.24 248.54 L464.72 248.65 L465.21 248.76 L465.69 248.87 L466.17 248.98 L466.65 249.09 L467.14 249.20 L467.62 249.30 L468.10 249.41 L468.59 249.52 L469.07 249.62 L469.55 249.73 L470.04 249.83 L470.52 249.93 L471.00 250.04 L471.48 250.14 L471.97 250.24 L472.45 250.34 L472.93 250.44 L473.42 250.54 L473.90 250.64 L474.38 250.74 L474.87 250.83 L475.35 250.93 L475.83 251.03 L476.31 251.12 L476.80 251.22 L477.28 251.31 L477.76 251.41 L478.25 251.50 L478.73 251.59 L479.21 251.68 L479.70 251.77 L480.18 251.87 L480.66 251.96 L481.14 252.05 L481.63 252.13 L482.11 252.22 L482.59 252.31 L483.08 252.40 L483.56 252.49 L484.04 252.57 L484.53 252.66 L485.01 252.74 L485.49 252.83 L485.97 252.91 L486.46 252.99 L486.94 253.08 L487.42 253.16 L487.91 253.24 L488.39 253.32 L488.87 253.40 L489.36 253.48 L489.84 253.56 L490.32 253.64 L490.80 253.72 L491.29 253.80 L491.77 253.88 L492.25 253.95 L492.74 254.03 L493.22 254.11 L493.70 254.18 L494.19 254.26 L494.67 254.33 L495.15 254.41 L495.63 254.48 L496.12 254.56 L496.60 254.63" stroke="#ff0000" stroke-width="2.0" stroke-dasharray="5.1 2.25"/>
</g>
<path d="M303.4 342.5 v-2.7 M303.4 197.7 v2.7 M313.06 342.5 v-1.7 M313.06 197.7 v1.7 M322.72 342.5 v-1.7 M322.72 197.7 v1.7 M332.38 342.5 v-1.7 M332.38 197.7 v1.7 M342.04 342.5 v-1.7 M342.04 197.7 v1.7 M351.7 342.5 v-2.7 M351.7 197.7 v2.7 M361.36 342.5 v-1.7 M361.36 197.7 v1.7 M371.02 342.5 v-1.7 M371.02 197.7 v1.7 M380.68 342.5 v-1.7 M380.68 197.7 v1.7 M390.34 342.5 v-1.7 M390.34 197.7 v1.7 M400 342.5 v-2.7 M400 197.7 v2.7 M409.66 342.5 v-1.7 M409.66 197.7 v1.7 M419.32 342.5 v-1.7 M419.32 197.7 v1.7 M428.98 342.5 v-1.7 M428.98 197.7 v1.7 M438.64 342.5 v-1.7 M438.64 197.7 v1.7 M448.3 342.5 v-2.7 M448.3 197.7 v2.7 M457.96 342.5 v-1.7 M457.96 197.7 v1.7 M467.62 342.5 v-1.7 M467.62 197.7 v1.7 M477.28 342.5 v-1.7 M477.28 197.7 v1.7 M486.94 342.5 v-1.7 M486.94 197.7 v1.7 M496.6 342.5 v-2.7 M496.6 197.7 v2.7 M303.4 342.5 h2.7 M496.6 342.5 h-2.7 M303.4 336.92 h1.7 M496.6 336.92 h-1.7 M303.4 331.35 h1.7 M496.6 331.35 h-1.7 M303.4 325.77 h1.7 M496.6 325.77 h-1.7 M303.4 320.19 h2.7 M496.6 320.19 h-2.7 M303.4 314.61 h1.7 M496.6 314.61 h-1.7 M303.4 309.03 h1.7 M496.6 309.03 h-1.7 M303.4 303.46 h1.7 M496.6 303.46 h-1.7 M303.4 297.88 h2.7 M496.6 297.88 h-2.7 M303.4 292.3 h1.7 M496.6 292.3 h-1.7 M303.4 286.73 h1.7 M496.6 286.73 h-1.7 M303.4 281.15 h1.7 M496.6 281.15 h-1.7 M303.4 275.57 h2.7 M496.6 275.57 h-2.7 M303.4 269.99 h1.7 M496.6 269.99 h-1.7 M303.4 264.41 h1.7 M496.6 264.41 h-1.7 M303.4 258.84 h1.7 M496.6 258.84 h-1.7 M303.4 253.26 h2.7 M496.6 253.26 h-2.7 M303.4 247.68 h1.7 M496.6 247.68 h-1.7 M303.4 242.11 h1.7 M496.6 242.11 h-1.7 M303.4 236.53 h1.7 M496.6 236.53 h-1.7 M303.4 230.95 h2.7 M496.6 230.95 h-2.7 M303.4 225.37 h1.7 M496.6 225.37 h-1.7 M303.4 219.79 h1.7 M496.6 219.79 h-1.7 M303.4 214.22 h1.7 M496.6 214.22 h-1.7 M303.4 208.64 h2.7 M496.6 208.64 h-2.7 M303.4 203.06 h1.7 M496.6 203.06 h-1.7" stroke="#000" stroke-width="1.1" fill="none"/>
<rect x="303.4" y="197.7" width="193.2" height="144.8" fill="none" stroke="#000" stroke-width="1.0"/>
<text x="303.4" y="357.8" text-anchor="middle" font-size="16.4">0</text>
<text x="351.7" y="357.8" text-anchor="middle" font-size="16.4">5</text>
<text x="400" y="357.8" text-anchor="middle" font-size="16.4">10</text>
<text x="448.3" y="357.8" text-anchor="middle" font-size="16.4">15</text>
<text x="496.6" y="357.8" text-anchor="middle" font-size="16.4">20</text>
<text x="300.1" y="346.8" text-anchor="end" font-size="16.4">0.0</text>
<text x="300.1" y="324.49" text-anchor="end" font-size="16.4">0.2</text>
<text x="300.1" y="302.18" text-anchor="end" font-size="16.4">0.4</text>
<text x="300.1" y="279.87" text-anchor="end" font-size="16.4">0.6</text>
<text x="300.1" y="257.56" text-anchor="end" font-size="16.4">0.8</text>
<text x="300.1" y="235.25" text-anchor="end" font-size="16.4">1.0</text>
<text x="300.1" y="212.94" text-anchor="end" font-size="16.4">1.2</text>
<text x="400" y="381.6" text-anchor="middle" font-size="17">r [fm]</text>
<clipPath id="c5"><rect x="556.2" y="197.7" width="193.2" height="144.8"/></clipPath>
<g clip-path="url(#c5)" fill="none" stroke-linejoin="round">
<path d="M556.20 320.84 L556.68 320.84 L557.17 320.84 L557.65 320.84 L558.13 320.84 L558.62 320.84 L559.10 320.85 L559.58 320.85 L560.06 320.86 L560.55 320.86 L561.03 320.87 L561.51 320.88 L562.00 320.88 L562.48 320.89 L562.96 320.90 L563.45 320.91 L563.93 320.92 L564.41 320.93 L564.89 320.94 L565.38 320.95 L565.86 320.97 L566.34 320.98 L566.83 320.99 L567.31 321.01 L567.79 321.02 L568.28 321.04 L568.76 321.06 L569.24 321.08 L569.72 321.09 L570.21 321.11 L570.69 321.13 L571.17 321.15 L571.66 321.17 L572.14 321.19 L572.62 321.22 L573.11 321.24 L573.59 321.26 L574.07 321.29 L574.55 321.31 L575.04 321.34 L575.52 321.36 L576.00 321.39 L576.49 321.42 L576.97 321.45 L577.45 321.47 L577.94 321.50 L578.42 321.53 L578.90 321.56 L579.38 321.59 L579.87 321.62 L580.35 321.65 L580.83 321.69 L581.32 321.72 L581.80 321.75 L582.28 321.78 L582.76 321.82 L583.25 321.85 L583.73 321.88 L584.21 321.92 L584.70 321.95 L585.18 321.99 L585.66 322.02 L586.15 322.06 L586.63 322.10 L587.11 322.13 L587.60 322.17 L588.08 322.21 L588.56 322.25 L589.04 322.29 L589.53 322.32 L590.01 322.36 L590.49 322.40 L590.98 322.45 L591.46 322.49 L591.94 322.53 L592.43 322.57 L592.91 322.62 L593.39 322.66 L593.87 322.71 L594.36 322.75 L594.84 322.80 L595.32 322.85 L595.81 322.90 L596.29 322.95 L596.77 323.00 L597.25 323.05 L597.74 323.10 L598.22 323.16 L598.70 323.22 L599.19 323.27 L599.67 323.33 L600.15 323.39 L600.64 323.45 L601.12 323.52 L601.60 323.58 L602.09 323.65 L602.57 323.71 L603.05 323.78 L603.53 323.85 L604.02 323.92 L604.50 323.99 L604.98 324.06 L605.47 324.14 L605.95 324.21 L606.43 324.29 L606.92 324.36 L607.40 324.44 L607.88 324.52 L608.36 324.60 L608.85 324.68 L609.33 324.77 L609.81 324.85 L610.30 324.94 L610.78 325.02 L611.26 325.11 L611.75 325.20 L612.23 325.29 L612.71 325.39 L613.19 325.48 L613.68 325.58 L614.16 325.68 L614.64 325.78 L615.13 325.88 L615.61 325.99 L616.09 326.09 L616.58 326.20 L617.06 326.31 L617.54 326.43 L618.02 326.54 L618.51 326.66 L618.99 326.78 L619.47 326.90 L619.96 327.03 L620.44 327.16 L620.92 327.29 L621.40 327.42 L621.89 327.55 L622.37 327.69 L622.85 327.83 L623.34 327.98 L623.82 328.12 L624.30 328.27 L624.79 328.43 L625.27 328.58 L625.75 328.74 L626.24 328.91 L626.72 329.07 L627.20 329.24 L627.68 329.42 L628.17 329.60 L628.65 329.78 L629.13 329.96 L629.62 330.15 L630.10 330.34 L630.58 330.54 L631.07 330.74 L631.55 330.94 L632.03 331.15 L632.51 331.36 L633.00 331.57 L633.48 331.79 L633.96 332.01 L634.45 332.24 L634.93 332.47 L635.41 332.71 L635.89 332.96 L636.38 333.21 L636.86 333.46 L637.34 333.73 L637.83 333.99 L638.31 334.27 L638.79 334.54 L639.28 334.83 L639.76 335.11 L640.24 335.40 L640.73 335.69 L641.21 335.98 L641.69 336.27 L642.17 336.55 L642.66 336.84 L643.14 337.13 L643.62 337.42 L644.11 337.73 L644.59 338.04 L645.07 338.37 L645.56 338.70 L646.04 339.05 L646.52 339.40 L647.00 339.76 L647.49 340.12 L647.97 340.47 L648.45 340.82 L648.94 341.15 L649.42 341.46 L649.90 341.75 L650.38 342.00 L650.87 342.21 L651.35 342.37 L651.83 342.47 L652.32 342.50 L652.80 342.40 L653.28 342.12 L653.77 341.69 L654.25 341.12 L654.73 340.46 L655.22 339.74 L655.70 338.98 L656.18 338.13 L656.66 337.11 L657.15 335.94 L657.63 334.61 L658.11 333.14 L658.60 331.52 L659.08 329.75 L659.56 327.86 L660.04 325.86 L660.53 323.75 L661.01 321.55 L661.49 319.23 L661.98 316.75 L662.46 314.07 L662.94 311.17 L663.43 308.10 L663.91 304.96 L664.39 301.81 L664.88 298.69 L665.36 295.60 L665.84 292.52 L666.32 289.43 L666.81 286.30 L667.29 283.14 L667.77 279.96 L668.26 276.80 L668.74 273.71 L669.22 270.74 L669.71 267.90 L670.19 265.22 L670.67 262.66 L671.15 260.21 L671.64 257.85 L672.12 255.54 L672.60 253.30 L673.09 251.12 L673.57 249.00 L674.05 246.95 L674.53 244.96 L675.02 243.02 L675.50 241.10 L675.98 239.20 L676.47 237.29 L676.95 235.38 L677.43 233.48 L677.92 231.62 L678.40 229.83 L678.88 228.14 L679.37 226.58 L679.85 225.17 L680.33 223.91 L680.81 222.80 L681.30 221.83 L681.78 220.99 L682.26 220.25 L682.75 219.60 L683.23 219.02 L683.71 218.50 L684.20 218.02 L684.68 217.59 L685.16 217.19 L685.64 216.82 L686.13 216.48 L686.61 216.17 L687.09 215.89 L687.58 215.64 L688.06 215.41 L688.54 215.20 L689.02 215.03 L689.51 214.87 L689.99 214.73 L690.47 214.61 L690.96 214.51 L691.44 214.41 L691.92 214.33 L692.41 214.27 L692.89 214.21 L693.37 214.16 L693.86 214.13 L694.34 214.10 L694.82 214.08 L695.30 214.08 L695.79 214.08 L696.27 214.09 L696.75 214.12 L697.24 214.15 L697.72 214.19 L698.20 214.24 L698.68 214.29 L699.17 214.36 L699.65 214.42 L700.13 214.50 L700.62 214.57 L701.10 214.66 L701.58 214.74 L702.07 214.83 L702.55 214.92 L703.03 215.01 L703.51 215.11 L704.00 215.21 L704.48 215.32 L704.96 215.43 L705.45 215.54 L705.93 215.66 L706.41 215.78 L706.90 215.90 L707.38 216.03 L707.86 216.16 L708.35 216.30 L708.83 216.43 L709.31 216.57 L709.79 216.71 L710.28 216.85 L710.76 216.99 L711.24 217.14 L711.73 217.28 L712.21 217.43 L712.69 217.57 L713.17 217.72 L713.66 217.86 L714.14 218.01 L714.62 218.15 L715.11 218.30 L715.59 218.45 L716.07 218.59 L716.56 218.74 L717.04 218.88 L717.52 219.03 L718.00 219.18 L718.49 219.32 L718.97 219.47 L719.45 219.61 L719.94 219.76 L720.42 219.91 L720.90 220.05 L721.39 220.20 L721.87 220.34 L722.35 220.48 L722.84 220.63 L723.32 220.77 L723.80 220.91 L724.28 221.05 L724.77 221.19 L725.25 221.33 L725.73 221.47 L726.22 221.61 L726.70 221.75 L727.18 221.88 L727.66 222.02 L728.15 222.16 L728.63 222.29 L729.11 222.43 L729.60 222.56 L730.08 222.70 L730.56 222.83 L731.05 222.96 L731.53 223.10 L732.01 223.23 L732.50 223.37 L732.98 223.50 L733.46 223.63 L733.94 223.76 L734.43 223.90 L734.91 224.03 L735.39 224.16 L735.88 224.29 L736.36 224.42 L736.84 224.55 L737.33 224.68 L737.81 224.81 L738.29 224.94 L738.77 225.07 L739.26 225.20 L739.74 225.33 L740.22 225.46 L740.71 225.58 L741.19 225.71 L741.67 225.84 L742.15 225.96 L742.64 226.09 L743.12 226.21 L743.60 226.34 L744.09 226.46 L744.57 226.59 L745.05 226.71 L745.54 226.83 L746.02 226.96 L746.50 227.08 L746.98 227.21 L747.47 227.33 L747.95 227.46 L748.43 227.59 L748.92 227.71 L749.40 227.84" stroke="#000" stroke-width="1.9"/>
<path d="M556.20 324.45 L556.68 324.45 L557.17 324.45 L557.65 324.45 L558.13 324.45 L558.62 324.45 L559.10 324.45 L559.58 324.45 L560.06 324.46 L560.55 324.46 L561.03 324.46 L561.51 324.46 L562.00 324.47 L562.48 324.47 L562.96 324.47 L563.45 324.48 L563.93 324.48 L564.41 324.48 L564.89 324.49 L565.38 324.49 L565.86 324.50 L566.34 324.50 L566.83 324.51 L567.31 324.51 L567.79 324.52 L568.28 324.53 L568.76 324.53 L569.24 324.54 L569.72 324.55 L570.21 324.56 L570.69 324.56 L571.17 324.57 L571.66 324.58 L572.14 324.59 L572.62 324.60 L573.11 324.61 L573.59 324.62 L574.07 324.63 L574.55 324.64 L575.04 324.66 L575.52 324.67 L576.00 324.68 L576.49 324.69 L576.97 324.71 L577.45 324.72 L577.94 324.74 L578.42 324.75 L578.90 324.77 L579.38 324.79 L579.87 324.80 L580.35 324.82 L580.83 324.84 L581.32 324.86 L581.80 324.87 L582.28 324.89 L582.76 324.91 L583.25 324.93 L583.73 324.96 L584.21 324.98 L584.70 325.00 L585.18 325.02 L585.66 325.05 L586.15 325.07 L586.63 325.10 L587.11 325.12 L587.60 325.15 L588.08 325.17 L588.56 325.20 L589.04 325.23 L589.53 325.25 L590.01 325.28 L590.49 325.31 L590.98 325.34 L591.46 325.37 L591.94 325.40 L592.43 325.43 L592.91 325.47 L593.39 325.50 L593.87 325.53 L594.36 325.57 L594.84 325.60 L595.32 325.64 L595.81 325.67 L596.29 325.71 L596.77 325.75 L597.25 325.79 L597.74 325.83 L598.22 325.87 L598.70 325.91 L599.19 325.95 L599.67 325.99 L600.15 326.03 L600.64 326.08 L601.12 326.13 L601.60 326.17 L602.09 326.22 L602.57 326.27 L603.05 326.32 L603.53 326.37 L604.02 326.43 L604.50 326.48 L604.98 326.54 L605.47 326.59 L605.95 326.65 L606.43 326.71 L606.92 326.78 L607.40 326.84 L607.88 326.91 L608.36 326.97 L608.85 327.04 L609.33 327.11 L609.81 327.18 L610.30 327.26 L610.78 327.33 L611.26 327.40 L611.75 327.48 L612.23 327.56 L612.71 327.64 L613.19 327.72 L613.68 327.80 L614.16 327.88 L614.64 327.96 L615.13 328.05 L615.61 328.13 L616.09 328.22 L616.58 328.31 L617.06 328.39 L617.54 328.48 L618.02 328.57 L618.51 328.66 L618.99 328.76 L619.47 328.85 L619.96 328.95 L620.44 329.05 L620.92 329.15 L621.40 329.25 L621.89 329.35 L622.37 329.46 L622.85 329.57 L623.34 329.69 L623.82 329.80 L624.30 329.92 L624.79 330.05 L625.27 330.18 L625.75 330.31 L626.24 330.44 L626.72 330.58 L627.20 330.72 L627.68 330.87 L628.17 331.02 L628.65 331.17 L629.13 331.33 L629.62 331.49 L630.10 331.66 L630.58 331.83 L631.07 332.00 L631.55 332.17 L632.03 332.35 L632.51 332.53 L633.00 332.72 L633.48 332.90 L633.96 333.10 L634.45 333.29 L634.93 333.49 L635.41 333.70 L635.89 333.91 L636.38 334.13 L636.86 334.35 L637.34 334.58 L637.83 334.81 L638.31 335.05 L638.79 335.29 L639.28 335.54 L639.76 335.79 L640.24 336.04 L640.73 336.29 L641.21 336.55 L641.69 336.81 L642.17 337.06 L642.66 337.32 L643.14 337.58 L643.62 337.84 L644.11 338.11 L644.59 338.40 L645.07 338.69 L645.56 339.00 L646.04 339.32 L646.52 339.64 L647.00 339.97 L647.49 340.30 L647.97 340.62 L648.45 340.94 L648.94 341.25 L649.42 341.54 L649.90 341.80 L650.38 342.04 L650.87 342.23 L651.35 342.38 L651.83 342.47 L652.32 342.50 L652.80 342.40 L653.28 342.12 L653.77 341.69 L654.25 341.12 L654.73 340.46 L655.22 339.74 L655.70 338.98 L656.18 338.13 L656.66 337.11 L657.15 335.94 L657.63 334.61 L658.11 333.14 L658.60 331.52 L659.08 329.75 L659.56 327.85 L660.04 325.84 L660.53 323.73 L661.01 321.54 L661.49 319.29 L661.98 317.02 L662.46 314.79 L662.94 312.59 L663.43 310.43 L663.91 308.29 L664.39 306.14 L664.88 303.97 L665.36 301.77 L665.84 299.57 L666.32 297.35 L666.81 295.13 L667.29 292.90 L667.77 290.69 L668.26 288.47 L668.74 286.25 L669.22 284.02 L669.71 281.79 L670.19 279.56 L670.67 277.35 L671.15 275.16 L671.64 273.02 L672.12 270.94 L672.60 268.93 L673.09 266.99 L673.57 265.12 L674.05 263.32 L674.53 261.58 L675.02 259.90 L675.50 258.28 L675.98 256.70 L676.47 255.18 L676.95 253.71 L677.43 252.30 L677.92 250.96 L678.40 249.67 L678.88 248.45 L679.37 247.29 L679.85 246.19 L680.33 245.14 L680.81 244.14 L681.30 243.20 L681.78 242.30 L682.26 241.46 L682.75 240.66 L683.23 239.91 L683.71 239.21 L684.20 238.55 L684.68 237.93 L685.16 237.35 L685.64 236.80 L686.13 236.29 L686.61 235.80 L687.09 235.35 L687.58 234.92 L688.06 234.52 L688.54 234.15 L689.02 233.80 L689.51 233.49 L689.99 233.19 L690.47 232.92 L690.96 232.67 L691.44 232.45 L691.92 232.24 L692.41 232.06 L692.89 231.89 L693.37 231.74 L693.86 231.61 L694.34 231.49 L694.82 231.39 L695.30 231.31 L695.79 231.23 L696.27 231.17 L696.75 231.12 L697.24 231.08 L697.72 231.05 L698.20 231.02 L698.68 231.00 L699.17 230.98 L699.65 230.97 L700.13 230.97 L700.62 230.97 L701.10 230.97 L701.58 230.98 L702.07 230.99 L702.55 231.01 L703.03 231.04 L703.51 231.07 L704.00 231.11 L704.48 231.15 L704.96 231.20 L705.45 231.25 L705.93 231.30 L706.41 231.35 L706.90 231.41 L707.38 231.46 L707.86 231.52 L708.35 231.57 L708.83 231.62 L709.31 231.68 L709.79 231.73 L710.28 231.78 L710.76 231.83 L711.24 231.89 L711.73 231.94 L712.21 232.00 L712.69 232.06 L713.17 232.13 L713.66 232.20 L714.14 232.28 L714.62 232.36 L715.11 232.44 L715.59 232.53 L716.07 232.63 L716.56 232.73 L717.04 232.84 L717.52 232.94 L718.00 233.05 L718.49 233.16 L718.97 233.28 L719.45 233.39 L719.94 233.50 L720.42 233.61 L720.90 233.72 L721.39 233.83 L721.87 233.94 L722.35 234.05 L722.84 234.15 L723.32 234.26 L723.80 234.36 L724.28 234.46 L724.77 234.56 L725.25 234.66 L725.73 234.76 L726.22 234.86 L726.70 234.96 L727.18 235.06 L727.66 235.15 L728.15 235.25 L728.63 235.35 L729.11 235.45 L729.60 235.55 L730.08 235.64 L730.56 235.74 L731.05 235.84 L731.53 235.93 L732.01 236.03 L732.50 236.12 L732.98 236.22 L733.46 236.31 L733.94 236.40 L734.43 236.50 L734.91 236.59 L735.39 236.68 L735.88 236.77 L736.36 236.86 L736.84 236.95 L737.33 237.04 L737.81 237.13 L738.29 237.21 L738.77 237.30 L739.26 237.39 L739.74 237.48 L740.22 237.57 L740.71 237.66 L741.19 237.75 L741.67 237.84 L742.15 237.93 L742.64 238.02 L743.12 238.12 L743.60 238.21 L744.09 238.31 L744.57 238.40 L745.05 238.50 L745.54 238.60 L746.02 238.69 L746.50 238.79 L746.98 238.89 L747.47 239.00 L747.95 239.10 L748.43 239.20 L748.92 239.30 L749.40 239.41" stroke="#ff0000" stroke-width="2.0" stroke-dasharray="5.1 2.25"/>
</g>
<path d="M556.2 342.5 v-2.7 M556.2 197.7 v2.7 M565.86 342.5 v-1.7 M565.86 197.7 v1.7 M575.52 342.5 v-1.7 M575.52 197.7 v1.7 M585.18 342.5 v-1.7 M585.18 197.7 v1.7 M594.84 342.5 v-1.7 M594.84 197.7 v1.7 M604.5 342.5 v-2.7 M604.5 197.7 v2.7 M614.16 342.5 v-1.7 M614.16 197.7 v1.7 M623.82 342.5 v-1.7 M623.82 197.7 v1.7 M633.48 342.5 v-1.7 M633.48 197.7 v1.7 M643.14 342.5 v-1.7 M643.14 197.7 v1.7 M652.8 342.5 v-2.7 M652.8 197.7 v2.7 M662.46 342.5 v-1.7 M662.46 197.7 v1.7 M672.12 342.5 v-1.7 M672.12 197.7 v1.7 M681.78 342.5 v-1.7 M681.78 197.7 v1.7 M691.44 342.5 v-1.7 M691.44 197.7 v1.7 M701.1 342.5 v-2.7 M701.1 197.7 v2.7 M710.76 342.5 v-1.7 M710.76 197.7 v1.7 M720.42 342.5 v-1.7 M720.42 197.7 v1.7 M730.08 342.5 v-1.7 M730.08 197.7 v1.7 M739.74 342.5 v-1.7 M739.74 197.7 v1.7 M749.4 342.5 v-2.7 M749.4 197.7 v2.7 M556.2 342.5 h2.7 M749.4 342.5 h-2.7 M556.2 336.92 h1.7 M749.4 336.92 h-1.7 M556.2 331.35 h1.7 M749.4 331.35 h-1.7 M556.2 325.77 h1.7 M749.4 325.77 h-1.7 M556.2 320.19 h2.7 M749.4 320.19 h-2.7 M556.2 314.61 h1.7 M749.4 314.61 h-1.7 M556.2 309.03 h1.7 M749.4 309.03 h-1.7 M556.2 303.46 h1.7 M749.4 303.46 h-1.7 M556.2 297.88 h2.7 M749.4 297.88 h-2.7 M556.2 292.3 h1.7 M749.4 292.3 h-1.7 M556.2 286.73 h1.7 M749.4 286.73 h-1.7 M556.2 281.15 h1.7 M749.4 281.15 h-1.7 M556.2 275.57 h2.7 M749.4 275.57 h-2.7 M556.2 269.99 h1.7 M749.4 269.99 h-1.7 M556.2 264.41 h1.7 M749.4 264.41 h-1.7 M556.2 258.84 h1.7 M749.4 258.84 h-1.7 M556.2 253.26 h2.7 M749.4 253.26 h-2.7 M556.2 247.68 h1.7 M749.4 247.68 h-1.7 M556.2 242.11 h1.7 M749.4 242.11 h-1.7 M556.2 236.53 h1.7 M749.4 236.53 h-1.7 M556.2 230.95 h2.7 M749.4 230.95 h-2.7 M556.2 225.37 h1.7 M749.4 225.37 h-1.7 M556.2 219.79 h1.7 M749.4 219.79 h-1.7 M556.2 214.22 h1.7 M749.4 214.22 h-1.7 M556.2 208.64 h2.7 M749.4 208.64 h-2.7 M556.2 203.06 h1.7 M749.4 203.06 h-1.7" stroke="#000" stroke-width="1.1" fill="none"/>
<rect x="556.2" y="197.7" width="193.2" height="144.8" fill="none" stroke="#000" stroke-width="1.0"/>
<text x="556.2" y="357.8" text-anchor="middle" font-size="16.4">0</text>
<text x="604.5" y="357.8" text-anchor="middle" font-size="16.4">5</text>
<text x="652.8" y="357.8" text-anchor="middle" font-size="16.4">10</text>
<text x="701.1" y="357.8" text-anchor="middle" font-size="16.4">15</text>
<text x="749.4" y="357.8" text-anchor="middle" font-size="16.4">20</text>
<text x="553.6" y="347" text-anchor="end" font-size="16.4">0.0</text>
<text x="553.6" y="324.69" text-anchor="end" font-size="16.4">0.2</text>
<text x="553.6" y="302.38" text-anchor="end" font-size="16.4">0.4</text>
<text x="553.6" y="280.07" text-anchor="end" font-size="16.4">0.6</text>
<text x="553.6" y="257.76" text-anchor="end" font-size="16.4">0.8</text>
<text x="553.6" y="235.45" text-anchor="end" font-size="16.4">1.0</text>
<text x="553.6" y="213.14" text-anchor="end" font-size="16.4">1.2</text>
<text x="652.8" y="381.6" text-anchor="middle" font-size="17">r [fm]</text>
<path d="M101.9 53.2H143.8" stroke="#000" stroke-width="2.1"/>
<path d="M101.9 77.1H143.9" stroke="#ff0000" stroke-width="2" stroke-dasharray="5.1 2.25"/>
<path d="M101.9 99.4H140.1" stroke="#008000" stroke-width="2" stroke-dasharray="11.5 2.4 3.9 2.4"/>
<text x="150.2" y="56.8" font-size="12">Kinetic Exact</text>
<text x="150.2" y="80.7" font-size="12">2</text><text x="156.4" y="76.2" font-size="8">nd</text><text x="165.4" y="80.7" font-size="12" textLength="7.2" lengthAdjust="spacingAndGlyphs">−</text><text x="172.9" y="80.7" font-size="12">order Hydro</text>
<text x="150.2" y="102.9" font-size="12">Ideal Hydro</text>
<text transform="translate(18.2 99.9) rotate(-90)" text-anchor="middle" font-size="17.6" letter-spacing="0.5"><tspan font-style="italic">T</tspan>/<tspan font-style="italic">T</tspan><tspan font-size="12" dy="2.8">0</tspan></text>
<g transform="translate(13.2 279.4) rotate(-90)"><text x="0.4" y="0" font-size="17.5">π</text><path d="M0 -9.6h9.6" stroke="#000" stroke-width="0.9"/><text x="11.4" y="-6.4" font-size="12.5" font-style="italic" textLength="6" lengthAdjust="spacingAndGlyphs">ς</text><text x="11.4" y="4.1" font-size="12.5" font-style="italic" textLength="6" lengthAdjust="spacingAndGlyphs">ς</text></g>
</svg>
</body></html>
